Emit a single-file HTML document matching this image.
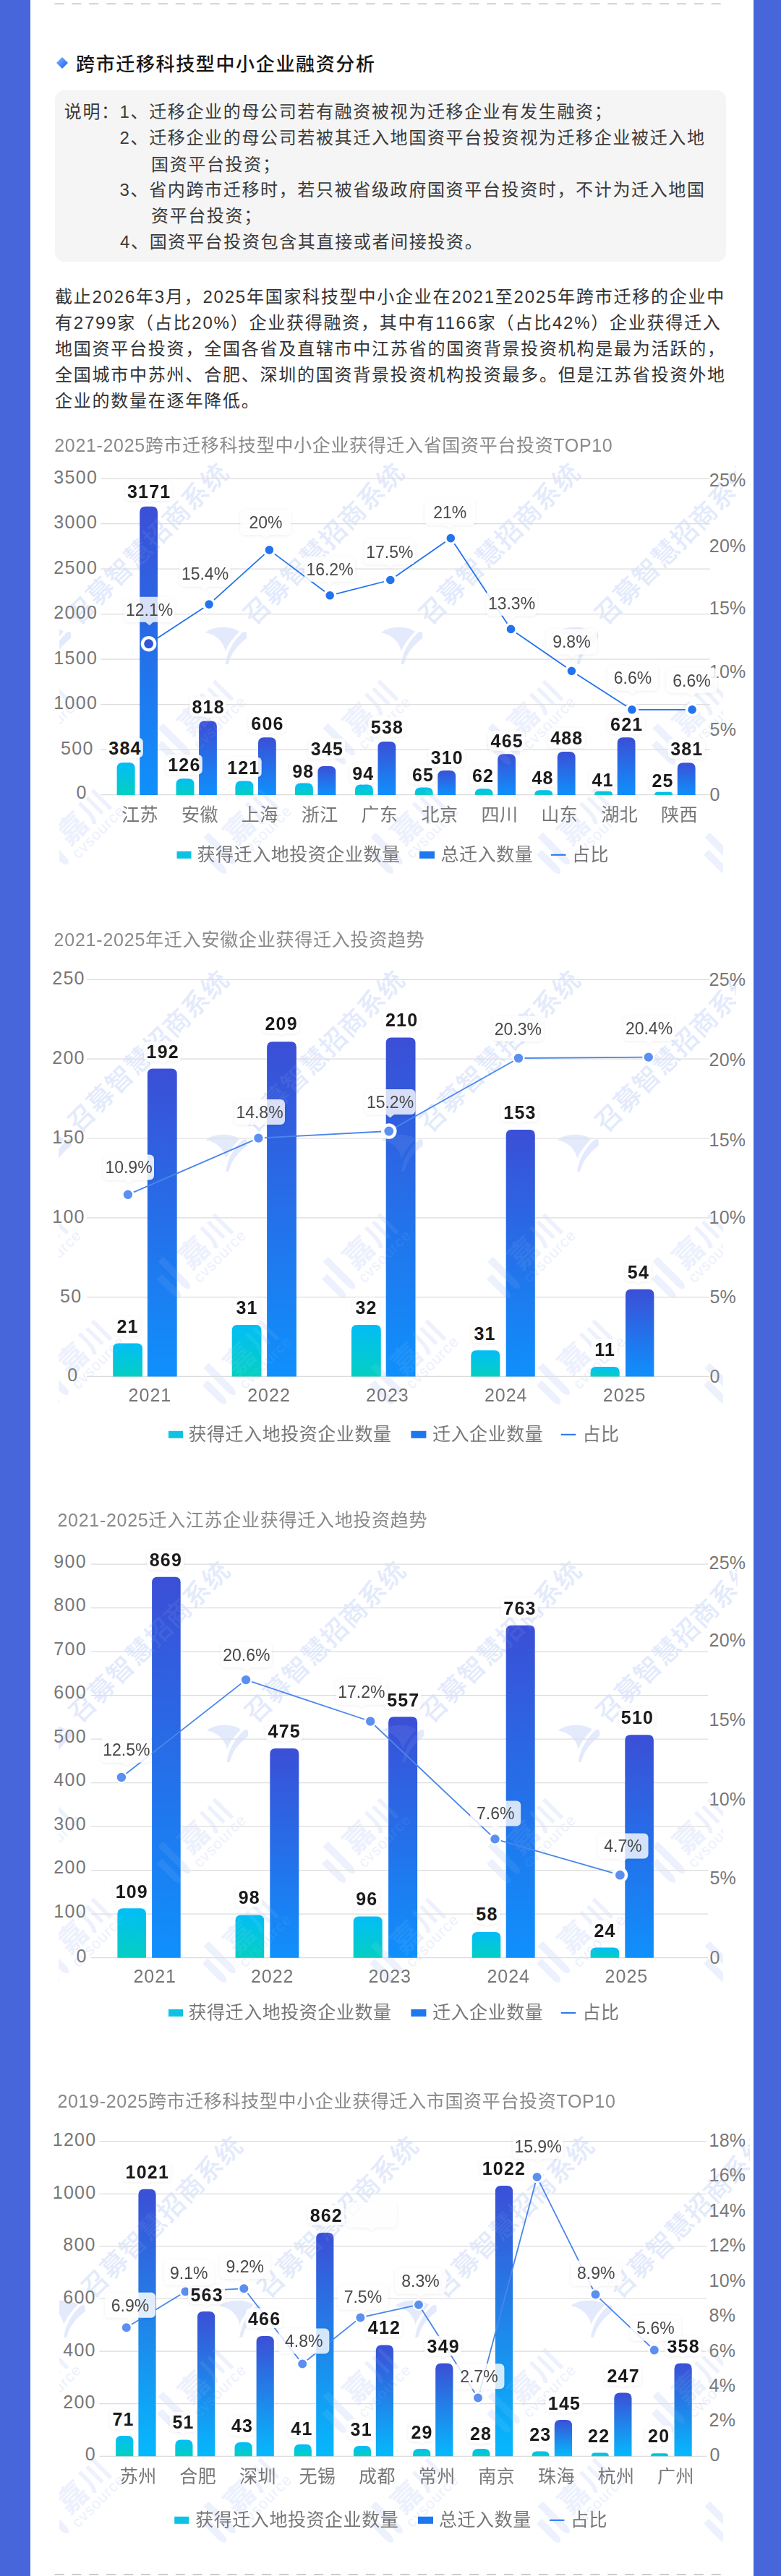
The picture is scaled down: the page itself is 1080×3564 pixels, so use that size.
<!DOCTYPE html><html lang="zh"><head><meta charset="utf-8"><title>跨市迁移科技型中小企业融资分析</title>
<style>
html,body{margin:0;padding:0}
body{width:1080px;height:3564px;position:relative;overflow:hidden;background:#fff;font-family:"Liberation Sans","Noto Sans CJK SC",sans-serif;color:#333}
.lb{position:absolute;left:0;top:0;width:42px;height:3564px;background:#4766da}
.rb{position:absolute;left:1042px;top:0;width:38px;height:3564px;background:#4766da}
.dash{position:absolute;left:75px;width:926px;height:0;border-top:1.4px dashed #b4b4b4}
.t{position:absolute;white-space:nowrap;line-height:1;}
.box{position:absolute;left:76px;top:125px;width:928px;height:237px;border-radius:13px;background:#f5f5f5}
.n{font-size:24px;letter-spacing:1.65px;color:#3a3a3a}
.p{font-size:24px;letter-spacing:1.77px;color:#333;left:76px}
.h{font-size:26px;font-weight:500;letter-spacing:1.64px;color:#161616;left:105px;top:75.5px}
.dm{position:absolute;left:78px;top:79px;width:16px;height:16px}
</style></head><body>
<div class="lb"></div><div class="rb"></div>
<svg class="dm" viewBox="0 0 16 16"><path d="M8,0 L16,8 L8,16 L0,8 Z" fill="url(#gd2)"/><defs><linearGradient id="gd2" x1="0" y1="0" x2="1" y2="1"><stop offset="0.2" stop-color="#6fa8ff"/><stop offset="0.9" stop-color="#2a62f4"/></linearGradient></defs></svg>
<svg style="position:absolute;left:0;top:0" width="1080" height="12"><line x1="75.5" y1="5.3" x2="1001" y2="5.3" stroke="#b0b0b0" stroke-width="1.3" stroke-dasharray="13 10.9"/></svg>
<svg style="position:absolute;left:0;top:3554px" width="1080" height="10"><line x1="75.5" y1="7.8" x2="1001" y2="7.8" stroke="#b0b0b0" stroke-width="1.3" stroke-dasharray="13 10.9"/></svg>
<div class="t h">跨市迁移科技型中小企业融资分析</div>
<div class="box"></div>
<div class="t n" style="left:88.8px;top:142.9px">说明：</div>
<div class="t n" style="left:165.5px;top:142.9px">1、迁移企业的母公司若有融资被视为迁移企业有发生融资；</div>
<div class="t n" style="left:165.5px;top:178.7px">2、迁移企业的母公司若被其迁入地国资平台投资视为迁移企业被迁入地</div>
<div class="t n" style="left:209px;top:215.5px">国资平台投资；</div>
<div class="t n" style="left:165.5px;top:250.9px">3、省内跨市迁移时，若只被省级政府国资平台投资时，不计为迁入地国</div>
<div class="t n" style="left:209px;top:287.2px">资平台投资；</div>
<div class="t n" style="left:166px;top:323.3px">4、国资平台投资包含其直接或者间接投资。</div>
<div class="t p" style="top:398.8px">截止2026年3月，2025年国家科技型中小企业在2021至2025年跨市迁移的企业中</div>
<div class="t p" style="top:434.8px">有2799家（占比20%）企业获得融资，其中有1166家（占比42%）企业获得迁入</div>
<div class="t p" style="top:470.8px">地国资平台投资，全国各省及直辖市中江苏省的国资背景投资机构是最为活跃的，</div>
<div class="t p" style="top:506.8px">全国城市中苏州、合肥、深圳的国资背景投资机构投资最多。但是江苏省投资外地</div>
<div class="t p" style="top:542.8px">企业的数量在逐年降低。</div>
<svg width="1080" height="3564" viewBox="0 0 1080 3564" style="position:absolute;left:0;top:0;font-family:'Liberation Sans','Noto Sans CJK SC',sans-serif">
<defs>
<linearGradient id="gb" x1="0" y1="0" x2="0" y2="1"><stop offset="0" stop-color="#3b4fd6"/><stop offset="1" stop-color="#0f90fc"/></linearGradient>
<linearGradient id="gb4" x1="0" y1="0" x2="0" y2="1"><stop offset="0" stop-color="#3b4fd6"/><stop offset="1" stop-color="#05b9fd"/></linearGradient>
<linearGradient id="gc" x1="0" y1="0" x2="0" y2="1"><stop offset="0" stop-color="#03bdf6"/><stop offset="1" stop-color="#04cfc2"/></linearGradient>
<linearGradient id="gd" x1="0" y1="0" x2="1" y2="1"><stop offset="0" stop-color="#6fa8ff"/><stop offset="1" stop-color="#2563f5"/></linearGradient>
<filter id="sh" x="-20%" y="-30%" width="140%" height="170%"><feDropShadow dx="0" dy="1" stdDeviation="2" flood-color="#000" flood-opacity="0.08"/></filter>
<g id="sail"><path d="M-28.6,-17.7 C-20,-26 5,-29 18.6,-19.2 C8,-8 2,0 -0.6,8.5 C-3,-4 -12,-15 -28.6,-17.7 Z M22.4,-17.7 L27,-19.5 C29,-17 29,-13 28.6,-10 C16,0 8,10 4.8,20.7 L3,26 L-1,26 C2,8 10,-6 22.4,-17.7 Z"/></g>
</defs>
<g><clipPath id="cp640"><rect x="82" y="640" width="918" height="587"/></clipPath>
<clipPath id="cp640t"><rect x="82" y="640" width="935.5" height="587"/></clipPath>
<g clip-path="url(#cp640t)" fill="#e1e9fc" font-weight="bold">
<text transform="translate(108.5,866.4) rotate(-45)" font-size="36" letter-spacing="1.2" font-weight="500">召募智慧招商系统</text>
<text transform="translate(351.5,866.4) rotate(-45)" font-size="36" letter-spacing="1.2" font-weight="500">召募智慧招商系统</text>
<text transform="translate(594.5,866.4) rotate(-45)" font-size="36" letter-spacing="1.2" font-weight="500">召募智慧招商系统</text>
<text transform="translate(837.5,866.4) rotate(-45)" font-size="36" letter-spacing="1.2" font-weight="500">召募智慧招商系统</text>
</g>
<g clip-path="url(#cp640)" fill="#e1e9fc" font-weight="bold">
<use href="#sail" x="-173.5" y="893"/>
<g fill="#ebf0fd" transform="translate(40,995) rotate(-45)"><text font-size="41" x="-20.5" y="15" letter-spacing="2.4">嘉川</text><text font-size="21" x="22" y="36" text-anchor="middle" font-weight="normal" letter-spacing="1.2">cvsource</text><path d="M-44,-26 h10 v46 q0,9 -5,11 q-5,-2 -5,-11 Z M-62,-10 h10 v30 q0,9 -5,11 q-5,-2 -5,-11 Z"/></g>
<g fill="#ebf0fd" transform="translate(-131,1146) rotate(-45)"><text font-size="41" x="-20.5" y="15" letter-spacing="2.4">嘉川</text><text font-size="21" x="22" y="36" text-anchor="middle" font-weight="normal" letter-spacing="1.2">cvsource</text><path d="M-44,-26 h10 v46 q0,9 -5,11 q-5,-2 -5,-11 Z M-62,-10 h10 v30 q0,9 -5,11 q-5,-2 -5,-11 Z"/></g>
<use href="#sail" x="69.5" y="893"/>
<g fill="#ebf0fd" transform="translate(268,995) rotate(-45)"><text font-size="41" x="-20.5" y="15" letter-spacing="2.4">嘉川</text><text font-size="21" x="22" y="36" text-anchor="middle" font-weight="normal" letter-spacing="1.2">cvsource</text><path d="M-44,-26 h10 v46 q0,9 -5,11 q-5,-2 -5,-11 Z M-62,-10 h10 v30 q0,9 -5,11 q-5,-2 -5,-11 Z"/></g>
<g fill="#ebf0fd" transform="translate(100,1146) rotate(-45)"><text font-size="41" x="-20.5" y="15" letter-spacing="2.4">嘉川</text><text font-size="21" x="22" y="36" text-anchor="middle" font-weight="normal" letter-spacing="1.2">cvsource</text><path d="M-44,-26 h10 v46 q0,9 -5,11 q-5,-2 -5,-11 Z M-62,-10 h10 v30 q0,9 -5,11 q-5,-2 -5,-11 Z"/></g>
<use href="#sail" x="312.5" y="893"/>
<g fill="#ebf0fd" transform="translate(496,995) rotate(-45)"><text font-size="41" x="-20.5" y="15" letter-spacing="2.4">嘉川</text><text font-size="21" x="22" y="36" text-anchor="middle" font-weight="normal" letter-spacing="1.2">cvsource</text><path d="M-44,-26 h10 v46 q0,9 -5,11 q-5,-2 -5,-11 Z M-62,-10 h10 v30 q0,9 -5,11 q-5,-2 -5,-11 Z"/></g>
<g fill="#ebf0fd" transform="translate(331,1146) rotate(-45)"><text font-size="41" x="-20.5" y="15" letter-spacing="2.4">嘉川</text><text font-size="21" x="22" y="36" text-anchor="middle" font-weight="normal" letter-spacing="1.2">cvsource</text><path d="M-44,-26 h10 v46 q0,9 -5,11 q-5,-2 -5,-11 Z M-62,-10 h10 v30 q0,9 -5,11 q-5,-2 -5,-11 Z"/></g>
<use href="#sail" x="555.5" y="893"/>
<g fill="#ebf0fd" transform="translate(724,995) rotate(-45)"><text font-size="41" x="-20.5" y="15" letter-spacing="2.4">嘉川</text><text font-size="21" x="22" y="36" text-anchor="middle" font-weight="normal" letter-spacing="1.2">cvsource</text><path d="M-44,-26 h10 v46 q0,9 -5,11 q-5,-2 -5,-11 Z M-62,-10 h10 v30 q0,9 -5,11 q-5,-2 -5,-11 Z"/></g>
<g fill="#ebf0fd" transform="translate(562,1146) rotate(-45)"><text font-size="41" x="-20.5" y="15" letter-spacing="2.4">嘉川</text><text font-size="21" x="22" y="36" text-anchor="middle" font-weight="normal" letter-spacing="1.2">cvsource</text><path d="M-44,-26 h10 v46 q0,9 -5,11 q-5,-2 -5,-11 Z M-62,-10 h10 v30 q0,9 -5,11 q-5,-2 -5,-11 Z"/></g>
<use href="#sail" x="798.5" y="893"/>
<g fill="#ebf0fd" transform="translate(952,995) rotate(-45)"><text font-size="41" x="-20.5" y="15" letter-spacing="2.4">嘉川</text><text font-size="21" x="22" y="36" text-anchor="middle" font-weight="normal" letter-spacing="1.2">cvsource</text><path d="M-44,-26 h10 v46 q0,9 -5,11 q-5,-2 -5,-11 Z M-62,-10 h10 v30 q0,9 -5,11 q-5,-2 -5,-11 Z"/></g>
<g fill="#ebf0fd" transform="translate(793,1146) rotate(-45)"><text font-size="41" x="-20.5" y="15" letter-spacing="2.4">嘉川</text><text font-size="21" x="22" y="36" text-anchor="middle" font-weight="normal" letter-spacing="1.2">cvsource</text><path d="M-44,-26 h10 v46 q0,9 -5,11 q-5,-2 -5,-11 Z M-62,-10 h10 v30 q0,9 -5,11 q-5,-2 -5,-11 Z"/></g>
<use href="#sail" x="1041.5" y="893"/>
<g fill="#ebf0fd" transform="translate(1180,995) rotate(-45)"><text font-size="41" x="-20.5" y="15" letter-spacing="2.4">嘉川</text><text font-size="21" x="22" y="36" text-anchor="middle" font-weight="normal" letter-spacing="1.2">cvsource</text><path d="M-44,-26 h10 v46 q0,9 -5,11 q-5,-2 -5,-11 Z M-62,-10 h10 v30 q0,9 -5,11 q-5,-2 -5,-11 Z"/></g>
<g fill="#ebf0fd" transform="translate(1024,1146) rotate(-45)"><text font-size="41" x="-20.5" y="15" letter-spacing="2.4">嘉川</text><text font-size="21" x="22" y="36" text-anchor="middle" font-weight="normal" letter-spacing="1.2">cvsource</text><path d="M-44,-26 h10 v46 q0,9 -5,11 q-5,-2 -5,-11 Z M-62,-10 h10 v30 q0,9 -5,11 q-5,-2 -5,-11 Z"/></g>
</g>
<line x1="139.2" y1="662.2" x2="981.8" y2="662.2" stroke="#dcdcdc" stroke-width="1.2"/>
<line x1="139.2" y1="724.7" x2="981.8" y2="724.7" stroke="#dcdcdc" stroke-width="1.2"/>
<line x1="139.2" y1="787.2" x2="981.8" y2="787.2" stroke="#dcdcdc" stroke-width="1.2"/>
<line x1="139.2" y1="849.7" x2="981.8" y2="849.7" stroke="#dcdcdc" stroke-width="1.2"/>
<line x1="139.2" y1="912.2" x2="981.8" y2="912.2" stroke="#dcdcdc" stroke-width="1.2"/>
<line x1="139.2" y1="974.7" x2="981.8" y2="974.7" stroke="#dcdcdc" stroke-width="1.2"/>
<line x1="139.2" y1="1037.2" x2="981.8" y2="1037.2" stroke="#dcdcdc" stroke-width="1.2"/>
<line x1="139.2" y1="1099.7" x2="981.8" y2="1099.7" stroke="#dcdcdc" stroke-width="1.2"/>
<text x="104.7" y="668.6" font-size="25" fill="#777777" text-anchor="middle" letter-spacing="1.3">3500</text>
<text x="104.7" y="731.1" font-size="25" fill="#777777" text-anchor="middle" letter-spacing="1.3">3000</text>
<text x="104.7" y="793.6" font-size="25" fill="#777777" text-anchor="middle" letter-spacing="1.3">2500</text>
<text x="104.7" y="856.1" font-size="25" fill="#777777" text-anchor="middle" letter-spacing="1.3">2000</text>
<text x="104.7" y="918.6" font-size="25" fill="#777777" text-anchor="middle" letter-spacing="1.3">1500</text>
<text x="104.7" y="981.1" font-size="25" fill="#777777" text-anchor="middle" letter-spacing="1.3">1000</text>
<text x="106.9" y="1043.6" font-size="25" fill="#777777" text-anchor="middle" letter-spacing="1.3">500</text>
<text x="113" y="1105.2" font-size="25" fill="#777777" text-anchor="middle" letter-spacing="1.3">0</text>
<text x="980.8" y="672.5" font-size="25" fill="#777777" text-anchor="start" letter-spacing="0.2">25%</text>
<text x="980.8" y="763.7" font-size="25" fill="#777777" text-anchor="start" letter-spacing="0.2">20%</text>
<text x="980.8" y="850.4" font-size="25" fill="#777777" text-anchor="start" letter-spacing="0.2">15%</text>
<text x="980.8" y="938.2" font-size="25" fill="#777777" text-anchor="start" letter-spacing="0.2">10%</text>
<text x="981.6" y="1017.8" font-size="25" fill="#777777" text-anchor="start" letter-spacing="0.2">5%</text>
<text x="981.6" y="1107.5" font-size="25" fill="#777777" text-anchor="start" letter-spacing="0.2">0</text>
<path d="M161.6,1099.9 L161.6,1062.9 Q161.6,1054.9 169.6,1054.9 L178.6,1054.9 Q186.6,1054.9 186.6,1062.9 L186.6,1099.9 Z" fill="url(#gc)"/>
<path d="M193.2,1099.9 L193.2,708.7 Q193.2,700.7 201.2,700.7 L210,700.7 Q218,700.7 218,708.7 L218,1099.9 Z" fill="url(#gb)"/>
<path d="M243.5,1099.9 L243.5,1085.2 Q243.5,1077.2 251.5,1077.2 L260.5,1077.2 Q268.5,1077.2 268.5,1085.2 L268.5,1099.9 Z" fill="url(#gc)"/>
<path d="M275.1,1099.9 L275.1,1005.6 Q275.1,997.6 283.1,997.6 L291.9,997.6 Q299.9,997.6 299.9,1005.6 L299.9,1099.9 Z" fill="url(#gb)"/>
<path d="M325.4,1099.9 L325.4,1088.5 Q325.4,1080.5 333.4,1080.5 L342.4,1080.5 Q350.4,1080.5 350.4,1088.5 L350.4,1099.9 Z" fill="url(#gc)"/>
<path d="M357,1099.9 L357,1028.3 Q357,1020.3 365,1020.3 L373.8,1020.3 Q381.8,1020.3 381.8,1028.3 L381.8,1099.9 Z" fill="url(#gb)"/>
<path d="M407.9,1099.9 L407.9,1091.5 Q407.9,1083.5 415.9,1083.5 L424.9,1083.5 Q432.9,1083.5 432.9,1091.5 L432.9,1099.9 Z" fill="url(#gc)"/>
<path d="M439.5,1099.9 L439.5,1067.9 Q439.5,1059.9 447.5,1059.9 L456.3,1059.9 Q464.3,1059.9 464.3,1067.9 L464.3,1099.9 Z" fill="url(#gb)"/>
<path d="M490.9,1099.9 L490.9,1093.5 Q490.9,1085.5 498.9,1085.5 L507.9,1085.5 Q515.9,1085.5 515.9,1093.5 L515.9,1099.9 Z" fill="url(#gc)"/>
<path d="M522.5,1099.9 L522.5,1033.9 Q522.5,1025.9 530.5,1025.9 L539.3,1025.9 Q547.3,1025.9 547.3,1033.9 L547.3,1099.9 Z" fill="url(#gb)"/>
<path d="M573.7,1099.9 L573.7,1097.5 Q573.7,1089.5 581.7,1089.5 L590.7,1089.5 Q598.7,1089.5 598.7,1097.5 L598.7,1099.9 Z" fill="url(#gc)"/>
<path d="M605.3,1099.9 L605.3,1073.9 Q605.3,1065.9 613.3,1065.9 L622.1,1065.9 Q630.1,1065.9 630.1,1073.9 L630.1,1099.9 Z" fill="url(#gb)"/>
<path d="M656.6,1099.9 L656.6,1099.2 Q656.6,1091.2 664.6,1091.2 L673.6,1091.2 Q681.6,1091.2 681.6,1099.2 L681.6,1099.9 Z" fill="url(#gc)"/>
<path d="M688.2,1099.9 L688.2,1051.2 Q688.2,1043.2 696.2,1043.2 L705,1043.2 Q713,1043.2 713,1051.2 L713,1099.9 Z" fill="url(#gb)"/>
<path d="M739.2,1099.9 L739.2,1099.9 Q739.2,1093.2 745.9,1093.2 L757.5,1093.2 Q764.2,1093.2 764.2,1099.9 L764.2,1099.9 Z" fill="url(#gc)"/>
<path d="M770.8,1099.9 L770.8,1047.9 Q770.8,1039.9 778.8,1039.9 L787.6,1039.9 Q795.6,1039.9 795.6,1047.9 L795.6,1099.9 Z" fill="url(#gb)"/>
<path d="M822.1,1099.9 L822.1,1099.9 Q822.1,1094.8 827.2,1094.8 L842,1094.8 Q847.1,1094.8 847.1,1099.9 L847.1,1099.9 Z" fill="url(#gc)"/>
<path d="M853.7,1099.9 L853.7,1028.3 Q853.7,1020.3 861.7,1020.3 L870.5,1020.3 Q878.5,1020.3 878.5,1028.3 L878.5,1099.9 Z" fill="url(#gb)"/>
<path d="M905.2,1099.9 L905.2,1099.9 Q905.2,1095.8 909.3,1095.8 L926.1,1095.8 Q930.2,1095.8 930.2,1099.9 L930.2,1099.9 Z" fill="url(#gc)"/>
<path d="M936.8,1099.9 L936.8,1063.2 Q936.8,1055.2 944.8,1055.2 L953.6,1055.2 Q961.6,1055.2 961.6,1063.2 L961.6,1099.9 Z" fill="url(#gb)"/>
<g opacity="0.07">
<clipPath id="co640"><rect x="82" y="640" width="918" height="587"/></clipPath>
<clipPath id="co640t"><rect x="82" y="640" width="935.5" height="587"/></clipPath>
<g clip-path="url(#co640t)" fill="#fff" font-weight="bold">
<text transform="translate(108.5,866.4) rotate(-45)" font-size="36" letter-spacing="1.2" font-weight="500">召募智慧招商系统</text>
<text transform="translate(351.5,866.4) rotate(-45)" font-size="36" letter-spacing="1.2" font-weight="500">召募智慧招商系统</text>
<text transform="translate(594.5,866.4) rotate(-45)" font-size="36" letter-spacing="1.2" font-weight="500">召募智慧招商系统</text>
<text transform="translate(837.5,866.4) rotate(-45)" font-size="36" letter-spacing="1.2" font-weight="500">召募智慧招商系统</text>
</g>
<g clip-path="url(#co640)" fill="#fff" font-weight="bold">
<use href="#sail" x="-173.5" y="893"/>
<g fill="#fff" transform="translate(40,995) rotate(-45)"><text font-size="41" x="-20.5" y="15" letter-spacing="2.4">嘉川</text><text font-size="21" x="22" y="36" text-anchor="middle" font-weight="normal" letter-spacing="1.2">cvsource</text><path d="M-44,-26 h10 v46 q0,9 -5,11 q-5,-2 -5,-11 Z M-62,-10 h10 v30 q0,9 -5,11 q-5,-2 -5,-11 Z"/></g>
<g fill="#fff" transform="translate(-131,1146) rotate(-45)"><text font-size="41" x="-20.5" y="15" letter-spacing="2.4">嘉川</text><text font-size="21" x="22" y="36" text-anchor="middle" font-weight="normal" letter-spacing="1.2">cvsource</text><path d="M-44,-26 h10 v46 q0,9 -5,11 q-5,-2 -5,-11 Z M-62,-10 h10 v30 q0,9 -5,11 q-5,-2 -5,-11 Z"/></g>
<use href="#sail" x="69.5" y="893"/>
<g fill="#fff" transform="translate(268,995) rotate(-45)"><text font-size="41" x="-20.5" y="15" letter-spacing="2.4">嘉川</text><text font-size="21" x="22" y="36" text-anchor="middle" font-weight="normal" letter-spacing="1.2">cvsource</text><path d="M-44,-26 h10 v46 q0,9 -5,11 q-5,-2 -5,-11 Z M-62,-10 h10 v30 q0,9 -5,11 q-5,-2 -5,-11 Z"/></g>
<g fill="#fff" transform="translate(100,1146) rotate(-45)"><text font-size="41" x="-20.5" y="15" letter-spacing="2.4">嘉川</text><text font-size="21" x="22" y="36" text-anchor="middle" font-weight="normal" letter-spacing="1.2">cvsource</text><path d="M-44,-26 h10 v46 q0,9 -5,11 q-5,-2 -5,-11 Z M-62,-10 h10 v30 q0,9 -5,11 q-5,-2 -5,-11 Z"/></g>
<use href="#sail" x="312.5" y="893"/>
<g fill="#fff" transform="translate(496,995) rotate(-45)"><text font-size="41" x="-20.5" y="15" letter-spacing="2.4">嘉川</text><text font-size="21" x="22" y="36" text-anchor="middle" font-weight="normal" letter-spacing="1.2">cvsource</text><path d="M-44,-26 h10 v46 q0,9 -5,11 q-5,-2 -5,-11 Z M-62,-10 h10 v30 q0,9 -5,11 q-5,-2 -5,-11 Z"/></g>
<g fill="#fff" transform="translate(331,1146) rotate(-45)"><text font-size="41" x="-20.5" y="15" letter-spacing="2.4">嘉川</text><text font-size="21" x="22" y="36" text-anchor="middle" font-weight="normal" letter-spacing="1.2">cvsource</text><path d="M-44,-26 h10 v46 q0,9 -5,11 q-5,-2 -5,-11 Z M-62,-10 h10 v30 q0,9 -5,11 q-5,-2 -5,-11 Z"/></g>
<use href="#sail" x="555.5" y="893"/>
<g fill="#fff" transform="translate(724,995) rotate(-45)"><text font-size="41" x="-20.5" y="15" letter-spacing="2.4">嘉川</text><text font-size="21" x="22" y="36" text-anchor="middle" font-weight="normal" letter-spacing="1.2">cvsource</text><path d="M-44,-26 h10 v46 q0,9 -5,11 q-5,-2 -5,-11 Z M-62,-10 h10 v30 q0,9 -5,11 q-5,-2 -5,-11 Z"/></g>
<g fill="#fff" transform="translate(562,1146) rotate(-45)"><text font-size="41" x="-20.5" y="15" letter-spacing="2.4">嘉川</text><text font-size="21" x="22" y="36" text-anchor="middle" font-weight="normal" letter-spacing="1.2">cvsource</text><path d="M-44,-26 h10 v46 q0,9 -5,11 q-5,-2 -5,-11 Z M-62,-10 h10 v30 q0,9 -5,11 q-5,-2 -5,-11 Z"/></g>
<use href="#sail" x="798.5" y="893"/>
<g fill="#fff" transform="translate(952,995) rotate(-45)"><text font-size="41" x="-20.5" y="15" letter-spacing="2.4">嘉川</text><text font-size="21" x="22" y="36" text-anchor="middle" font-weight="normal" letter-spacing="1.2">cvsource</text><path d="M-44,-26 h10 v46 q0,9 -5,11 q-5,-2 -5,-11 Z M-62,-10 h10 v30 q0,9 -5,11 q-5,-2 -5,-11 Z"/></g>
<g fill="#fff" transform="translate(793,1146) rotate(-45)"><text font-size="41" x="-20.5" y="15" letter-spacing="2.4">嘉川</text><text font-size="21" x="22" y="36" text-anchor="middle" font-weight="normal" letter-spacing="1.2">cvsource</text><path d="M-44,-26 h10 v46 q0,9 -5,11 q-5,-2 -5,-11 Z M-62,-10 h10 v30 q0,9 -5,11 q-5,-2 -5,-11 Z"/></g>
<use href="#sail" x="1041.5" y="893"/>
<g fill="#fff" transform="translate(1180,995) rotate(-45)"><text font-size="41" x="-20.5" y="15" letter-spacing="2.4">嘉川</text><text font-size="21" x="22" y="36" text-anchor="middle" font-weight="normal" letter-spacing="1.2">cvsource</text><path d="M-44,-26 h10 v46 q0,9 -5,11 q-5,-2 -5,-11 Z M-62,-10 h10 v30 q0,9 -5,11 q-5,-2 -5,-11 Z"/></g>
<g fill="#fff" transform="translate(1024,1146) rotate(-45)"><text font-size="41" x="-20.5" y="15" letter-spacing="2.4">嘉川</text><text font-size="21" x="22" y="36" text-anchor="middle" font-weight="normal" letter-spacing="1.2">cvsource</text><path d="M-44,-26 h10 v46 q0,9 -5,11 q-5,-2 -5,-11 Z M-62,-10 h10 v30 q0,9 -5,11 q-5,-2 -5,-11 Z"/></g>
</g>
</g>
<polyline points="205.6,890.7 289.1,836.1 372.4,760.9 456.2,823.8 539.8,802.5 623.3,744.6 706.5,870.4 790.4,928.3 873.9,981.9 957.1,981.9" fill="none" stroke="#2273ee" stroke-width="1.8" stroke-linejoin="round"/>
<circle cx="205.6" cy="890.7" r="8.6" fill="#2f55d8" stroke="#fff" stroke-width="4.4"/>
<circle cx="289.1" cy="836.1" r="7.6" fill="#2273ee" stroke="#fff" stroke-width="3.6"/>
<circle cx="372.4" cy="760.9" r="7.6" fill="#2273ee" stroke="#fff" stroke-width="3.6"/>
<circle cx="456.2" cy="823.8" r="7.6" fill="#2273ee" stroke="#fff" stroke-width="3.6"/>
<circle cx="539.8" cy="802.5" r="7.6" fill="#2273ee" stroke="#fff" stroke-width="3.6"/>
<circle cx="623.3" cy="744.6" r="7.6" fill="#2273ee" stroke="#fff" stroke-width="3.6"/>
<circle cx="706.5" cy="870.4" r="7.6" fill="#2273ee" stroke="#fff" stroke-width="3.6"/>
<circle cx="790.4" cy="928.3" r="7.6" fill="#2273ee" stroke="#fff" stroke-width="3.6"/>
<circle cx="873.9" cy="981.9" r="7.6" fill="#2273ee" stroke="#fff" stroke-width="3.6"/>
<circle cx="957.1" cy="981.9" r="7.6" fill="#2273ee" stroke="#fff" stroke-width="3.6"/>
<g filter="url(#sh)"><rect x="146.9" y="1020.7" width="50.9" height="27.6" rx="6" fill="#fff" fill-opacity="0.86"/><path d="M166.9,1048 L177.9,1048 L172.4,1050.7 Z" fill="#fff" fill-opacity="0.86"/></g>
<text x="173" y="1044" font-size="25" fill="#1a1a1a" text-anchor="middle" font-weight="bold" letter-spacing="1.2">384</text>
<g filter="url(#sh)"><rect x="173" y="665.4" width="65.2" height="27.6" rx="6" fill="#fff" fill-opacity="0.86"/><path d="M200.1,692.7 L211.1,692.7 L205.6,695.4 Z" fill="#fff" fill-opacity="0.86"/></g>
<text x="206.2" y="688.7" font-size="25" fill="#1a1a1a" text-anchor="middle" font-weight="bold" letter-spacing="1.2">3171</text>
<g filter="url(#sh)"><rect x="228.9" y="1043.9" width="50.9" height="27.6" rx="6" fill="#fff" fill-opacity="0.86"/><path d="M248.8,1071.2 L259.8,1071.2 L254.3,1073.9 Z" fill="#fff" fill-opacity="0.86"/></g>
<text x="254.9" y="1067.2" font-size="25" fill="#1a1a1a" text-anchor="middle" font-weight="bold" letter-spacing="1.2">126</text>
<g filter="url(#sh)"><rect x="262.1" y="963.7" width="50.9" height="27.6" rx="6" fill="#fff" fill-opacity="0.86"/><path d="M282,991 L293,991 L287.5,993.7 Z" fill="#fff" fill-opacity="0.86"/></g>
<text x="288.1" y="987" font-size="25" fill="#1a1a1a" text-anchor="middle" font-weight="bold" letter-spacing="1.2">818</text>
<g filter="url(#sh)"><rect x="310.8" y="1047.6" width="50.9" height="27.6" rx="6" fill="#fff" fill-opacity="0.86"/><path d="M330.7,1074.9 L341.7,1074.9 L336.2,1077.6 Z" fill="#fff" fill-opacity="0.86"/></g>
<text x="336.8" y="1070.9" font-size="25" fill="#1a1a1a" text-anchor="middle" font-weight="bold" letter-spacing="1.2">121</text>
<g filter="url(#sh)"><rect x="343.9" y="987" width="50.9" height="27.6" rx="6" fill="#fff" fill-opacity="0.86"/><path d="M363.9,1014.3 L374.9,1014.3 L369.4,1017 Z" fill="#fff" fill-opacity="0.86"/></g>
<text x="370" y="1010.3" font-size="25" fill="#1a1a1a" text-anchor="middle" font-weight="bold" letter-spacing="1.2">606</text>
<g filter="url(#sh)"><rect x="400.4" y="1052.9" width="36.6" height="27.6" rx="6" fill="#fff" fill-opacity="0.86"/><path d="M413.2,1080.2 L424.2,1080.2 L418.7,1082.9 Z" fill="#fff" fill-opacity="0.86"/></g>
<text x="419.3" y="1076.2" font-size="25" fill="#1a1a1a" text-anchor="middle" font-weight="bold" letter-spacing="1.2">98</text>
<g filter="url(#sh)"><rect x="426.4" y="1021.8" width="50.9" height="27.6" rx="6" fill="#fff" fill-opacity="0.86"/><path d="M446.4,1049.1 L457.4,1049.1 L451.9,1051.8 Z" fill="#fff" fill-opacity="0.86"/></g>
<text x="452.5" y="1045.1" font-size="25" fill="#1a1a1a" text-anchor="middle" font-weight="bold" letter-spacing="1.2">345</text>
<g filter="url(#sh)"><rect x="483.4" y="1055.7" width="36.6" height="27.6" rx="6" fill="#fff" fill-opacity="0.86"/><path d="M496.2,1083 L507.2,1083 L501.7,1085.7 Z" fill="#fff" fill-opacity="0.86"/></g>
<text x="502.3" y="1079" font-size="25" fill="#1a1a1a" text-anchor="middle" font-weight="bold" letter-spacing="1.2">94</text>
<g filter="url(#sh)"><rect x="509.4" y="991.8" width="50.9" height="27.6" rx="6" fill="#fff" fill-opacity="0.86"/><path d="M529.4,1019.1 L540.4,1019.1 L534.9,1021.8 Z" fill="#fff" fill-opacity="0.86"/></g>
<text x="535.5" y="1015.1" font-size="25" fill="#1a1a1a" text-anchor="middle" font-weight="bold" letter-spacing="1.2">538</text>
<g filter="url(#sh)"><rect x="566.2" y="1057.6" width="36.6" height="27.6" rx="6" fill="#fff" fill-opacity="0.86"/><path d="M579,1084.9 L590,1084.9 L584.5,1087.6 Z" fill="#fff" fill-opacity="0.86"/></g>
<text x="585.1" y="1080.9" font-size="25" fill="#1a1a1a" text-anchor="middle" font-weight="bold" letter-spacing="1.2">65</text>
<g filter="url(#sh)"><rect x="592.2" y="1033.4" width="50.9" height="27.6" rx="6" fill="#fff" fill-opacity="0.86"/><path d="M612.2,1060.7 L623.2,1060.7 L617.7,1063.4 Z" fill="#fff" fill-opacity="0.86"/></g>
<text x="618.3" y="1056.7" font-size="25" fill="#1a1a1a" text-anchor="middle" font-weight="bold" letter-spacing="1.2">310</text>
<g filter="url(#sh)"><rect x="649.1" y="1058.9" width="36.6" height="27.6" rx="6" fill="#fff" fill-opacity="0.86"/><path d="M661.9,1086.2 L672.9,1086.2 L667.4,1088.9 Z" fill="#fff" fill-opacity="0.86"/></g>
<text x="668" y="1082.2" font-size="25" fill="#1a1a1a" text-anchor="middle" font-weight="bold" letter-spacing="1.2">62</text>
<g filter="url(#sh)"><rect x="675.1" y="1010.9" width="50.9" height="27.6" rx="6" fill="#fff" fill-opacity="0.86"/><path d="M695.1,1038.2 L706.1,1038.2 L700.6,1040.9 Z" fill="#fff" fill-opacity="0.86"/></g>
<text x="701.2" y="1034.2" font-size="25" fill="#1a1a1a" text-anchor="middle" font-weight="bold" letter-spacing="1.2">465</text>
<g filter="url(#sh)"><rect x="731.7" y="1061.5" width="36.6" height="27.6" rx="6" fill="#fff" fill-opacity="0.86"/><path d="M744.5,1088.8 L755.5,1088.8 L750,1091.5 Z" fill="#fff" fill-opacity="0.86"/></g>
<text x="750.6" y="1084.8" font-size="25" fill="#1a1a1a" text-anchor="middle" font-weight="bold" letter-spacing="1.2">48</text>
<g filter="url(#sh)"><rect x="757.8" y="1007" width="50.9" height="27.6" rx="6" fill="#fff" fill-opacity="0.86"/><path d="M777.7,1034.3 L788.7,1034.3 L783.2,1037 Z" fill="#fff" fill-opacity="0.86"/></g>
<text x="783.8" y="1030.3" font-size="25" fill="#1a1a1a" text-anchor="middle" font-weight="bold" letter-spacing="1.2">488</text>
<g filter="url(#sh)"><rect x="814.6" y="1064.4" width="36.6" height="27.6" rx="6" fill="#fff" fill-opacity="0.86"/><path d="M827.4,1091.7 L838.4,1091.7 L832.9,1094.4 Z" fill="#fff" fill-opacity="0.86"/></g>
<text x="833.5" y="1087.7" font-size="25" fill="#1a1a1a" text-anchor="middle" font-weight="bold" letter-spacing="1.2">41</text>
<g filter="url(#sh)"><rect x="840.6" y="987.8" width="50.9" height="27.6" rx="6" fill="#fff" fill-opacity="0.86"/><path d="M860.6,1015.1 L871.6,1015.1 L866.1,1017.8 Z" fill="#fff" fill-opacity="0.86"/></g>
<text x="866.7" y="1011.1" font-size="25" fill="#1a1a1a" text-anchor="middle" font-weight="bold" letter-spacing="1.2">621</text>
<g filter="url(#sh)"><rect x="897.7" y="1065.9" width="36.6" height="27.6" rx="6" fill="#fff" fill-opacity="0.86"/><path d="M910.5,1093.2 L921.5,1093.2 L916,1095.9 Z" fill="#fff" fill-opacity="0.86"/></g>
<text x="916.6" y="1089.2" font-size="25" fill="#1a1a1a" text-anchor="middle" font-weight="bold" letter-spacing="1.2">25</text>
<g filter="url(#sh)"><rect x="923.8" y="1021.8" width="50.9" height="27.6" rx="6" fill="#fff" fill-opacity="0.86"/><path d="M943.7,1049.1 L954.7,1049.1 L949.2,1051.8 Z" fill="#fff" fill-opacity="0.86"/></g>
<text x="949.8" y="1045.1" font-size="25" fill="#1a1a1a" text-anchor="middle" font-weight="bold" letter-spacing="1.2">381</text>
<g filter="url(#sh)"><rect x="171.6" y="825.7" width="70" height="35" rx="6" fill="#fff" fill-opacity="0.8"/><path d="M201.1,860.4 L212.1,860.4 L206.6,865.2 Z" fill="#fff" fill-opacity="0.8"/></g>
<text x="206.6" y="851.5" font-size="23" fill="#484848" text-anchor="middle">12.1%</text>
<g filter="url(#sh)"><rect x="248.5" y="776.5" width="70" height="35" rx="6" fill="#fff" fill-opacity="0.86"/><path d="M278,811.2 L289,811.2 L283.5,816 Z" fill="#fff" fill-opacity="0.86"/></g>
<text x="283.5" y="802.3" font-size="23" fill="#484848" text-anchor="middle">15.4%</text>
<g filter="url(#sh)"><rect x="332.5" y="705" width="70" height="35" rx="6" fill="#fff" fill-opacity="0.86"/><path d="M362,739.7 L373,739.7 L367.5,744.5 Z" fill="#fff" fill-opacity="0.86"/></g>
<text x="367.5" y="730.8" font-size="23" fill="#484848" text-anchor="middle">20%</text>
<g filter="url(#sh)"><rect x="421" y="769.8" width="70" height="35" rx="6" fill="#fff" fill-opacity="0.86"/><path d="M450.5,804.5 L461.5,804.5 L456,809.3 Z" fill="#fff" fill-opacity="0.86"/></g>
<text x="456" y="795.6" font-size="23" fill="#484848" text-anchor="middle">16.2%</text>
<g filter="url(#sh)"><rect x="503.8" y="745.9" width="70" height="35" rx="6" fill="#fff" fill-opacity="0.86"/><path d="M533.3,780.6 L544.3,780.6 L538.8,785.4 Z" fill="#fff" fill-opacity="0.86"/></g>
<text x="538.8" y="771.7" font-size="23" fill="#484848" text-anchor="middle">17.5%</text>
<g filter="url(#sh)"><rect x="587.3" y="691.6" width="70" height="35" rx="6" fill="#fff" fill-opacity="0.86"/><path d="M616.8,726.3 L627.8,726.3 L622.3,731.1 Z" fill="#fff" fill-opacity="0.86"/></g>
<text x="622.3" y="717.4" font-size="23" fill="#484848" text-anchor="middle">21%</text>
<g filter="url(#sh)"><rect x="672.5" y="816.8" width="70" height="35" rx="6" fill="#fff" fill-opacity="0.86"/><path d="M702,851.5 L713,851.5 L707.5,856.3 Z" fill="#fff" fill-opacity="0.86"/></g>
<text x="707.5" y="842.6" font-size="23" fill="#484848" text-anchor="middle">13.3%</text>
<g filter="url(#sh)"><rect x="755.4" y="870.2" width="70" height="35" rx="6" fill="#fff" fill-opacity="0.86"/><path d="M784.9,904.9 L795.9,904.9 L790.4,909.7 Z" fill="#fff" fill-opacity="0.86"/></g>
<text x="790.4" y="896" font-size="23" fill="#484848" text-anchor="middle">9.8%</text>
<g filter="url(#sh)"><rect x="840" y="920.5" width="70" height="35" rx="6" fill="#fff" fill-opacity="0.86"/><path d="M869.5,955.2 L880.5,955.2 L875,960 Z" fill="#fff" fill-opacity="0.86"/></g>
<text x="875" y="946.3" font-size="23" fill="#484848" text-anchor="middle">6.6%</text>
<g filter="url(#sh)"><rect x="921.5" y="923.7" width="70" height="35" rx="6" fill="#fff" fill-opacity="0.86"/><path d="M951,958.4 L962,958.4 L956.5,963.2 Z" fill="#fff" fill-opacity="0.86"/></g>
<text x="956.5" y="949.5" font-size="23" fill="#484848" text-anchor="middle">6.6%</text>
<text x="193.5" y="1136.3" font-size="25" fill="#777777" text-anchor="middle" letter-spacing="0.5">江苏</text>
<text x="276.4" y="1136.3" font-size="25" fill="#777777" text-anchor="middle" letter-spacing="0.5">安徽</text>
<text x="359.3" y="1136.3" font-size="25" fill="#777777" text-anchor="middle" letter-spacing="0.5">上海</text>
<text x="442.2" y="1136.3" font-size="25" fill="#777777" text-anchor="middle" letter-spacing="0.5">浙江</text>
<text x="525.1" y="1136.3" font-size="25" fill="#777777" text-anchor="middle" letter-spacing="0.5">广东</text>
<text x="608" y="1136.3" font-size="25" fill="#777777" text-anchor="middle" letter-spacing="0.5">北京</text>
<text x="690.9" y="1136.3" font-size="25" fill="#777777" text-anchor="middle" letter-spacing="0.5">四川</text>
<text x="773.8" y="1136.3" font-size="25" fill="#777777" text-anchor="middle" letter-spacing="0.5">山东</text>
<text x="856.7" y="1136.3" font-size="25" fill="#777777" text-anchor="middle" letter-spacing="0.5">湖北</text>
<text x="939.6" y="1136.3" font-size="25" fill="#777777" text-anchor="middle" letter-spacing="0.5">陕西</text>
<rect x="244.5" y="1177.8" width="20" height="10" fill="#0cc3e3"/>
<text x="272.5" y="1191.3" font-size="25" fill="#777777" text-anchor="start" letter-spacing="0.55">获得迁入地投资企业数量</text>
<rect x="580" y="1177.8" width="21" height="10" fill="#1c78ee"/>
<text x="609.5" y="1191.3" font-size="25" fill="#777777" text-anchor="start" letter-spacing="0.55">总迁入数量</text>
<line x1="762" y1="1182.8" x2="782.5" y2="1182.8" stroke="#2273ee" stroke-width="2"/>
<text x="791" y="1191.3" font-size="25" fill="#777777" text-anchor="start" letter-spacing="0.55">占比</text>
<text x="75.3" y="624.5" font-size="25" fill="#8a8a8a" text-anchor="start" letter-spacing="0.66">2021-2025跨市迁移科技型中小企业获得迁入省国资平台投资TOP10</text></g>
<g><clipPath id="cp1340"><rect x="81" y="1340" width="919" height="611"/></clipPath>
<clipPath id="cp1340t"><rect x="81" y="1340" width="937" height="611"/></clipPath>
<g clip-path="url(#cp1340t)" fill="#e1e9fc" font-weight="bold">
<text transform="translate(109,1568.4) rotate(-45)" font-size="36" letter-spacing="1.2" font-weight="500">召募智慧招商系统</text>
<text transform="translate(352,1568.4) rotate(-45)" font-size="36" letter-spacing="1.2" font-weight="500">召募智慧招商系统</text>
<text transform="translate(595,1568.4) rotate(-45)" font-size="36" letter-spacing="1.2" font-weight="500">召募智慧招商系统</text>
<text transform="translate(838,1568.4) rotate(-45)" font-size="36" letter-spacing="1.2" font-weight="500">召募智慧招商系统</text>
</g>
<g clip-path="url(#cp1340)" fill="#e1e9fc" font-weight="bold">
<use href="#sail" x="-173" y="1595"/>
<g fill="#ebf0fd" transform="translate(40,1733) rotate(-45)"><text font-size="41" x="-20.5" y="15" letter-spacing="2.4">嘉川</text><text font-size="21" x="22" y="36" text-anchor="middle" font-weight="normal" letter-spacing="1.2">cvsource</text><path d="M-44,-26 h10 v46 q0,9 -5,11 q-5,-2 -5,-11 Z M-62,-10 h10 v30 q0,9 -5,11 q-5,-2 -5,-11 Z"/></g>
<g fill="#ebf0fd" transform="translate(-131,1880) rotate(-45)"><text font-size="41" x="-20.5" y="15" letter-spacing="2.4">嘉川</text><text font-size="21" x="22" y="36" text-anchor="middle" font-weight="normal" letter-spacing="1.2">cvsource</text><path d="M-44,-26 h10 v46 q0,9 -5,11 q-5,-2 -5,-11 Z M-62,-10 h10 v30 q0,9 -5,11 q-5,-2 -5,-11 Z"/></g>
<use href="#sail" x="70" y="1595"/>
<g fill="#ebf0fd" transform="translate(268,1733) rotate(-45)"><text font-size="41" x="-20.5" y="15" letter-spacing="2.4">嘉川</text><text font-size="21" x="22" y="36" text-anchor="middle" font-weight="normal" letter-spacing="1.2">cvsource</text><path d="M-44,-26 h10 v46 q0,9 -5,11 q-5,-2 -5,-11 Z M-62,-10 h10 v30 q0,9 -5,11 q-5,-2 -5,-11 Z"/></g>
<g fill="#ebf0fd" transform="translate(100,1880) rotate(-45)"><text font-size="41" x="-20.5" y="15" letter-spacing="2.4">嘉川</text><text font-size="21" x="22" y="36" text-anchor="middle" font-weight="normal" letter-spacing="1.2">cvsource</text><path d="M-44,-26 h10 v46 q0,9 -5,11 q-5,-2 -5,-11 Z M-62,-10 h10 v30 q0,9 -5,11 q-5,-2 -5,-11 Z"/></g>
<use href="#sail" x="313" y="1595"/>
<g fill="#ebf0fd" transform="translate(496,1733) rotate(-45)"><text font-size="41" x="-20.5" y="15" letter-spacing="2.4">嘉川</text><text font-size="21" x="22" y="36" text-anchor="middle" font-weight="normal" letter-spacing="1.2">cvsource</text><path d="M-44,-26 h10 v46 q0,9 -5,11 q-5,-2 -5,-11 Z M-62,-10 h10 v30 q0,9 -5,11 q-5,-2 -5,-11 Z"/></g>
<g fill="#ebf0fd" transform="translate(331,1880) rotate(-45)"><text font-size="41" x="-20.5" y="15" letter-spacing="2.4">嘉川</text><text font-size="21" x="22" y="36" text-anchor="middle" font-weight="normal" letter-spacing="1.2">cvsource</text><path d="M-44,-26 h10 v46 q0,9 -5,11 q-5,-2 -5,-11 Z M-62,-10 h10 v30 q0,9 -5,11 q-5,-2 -5,-11 Z"/></g>
<use href="#sail" x="556" y="1595"/>
<g fill="#ebf0fd" transform="translate(724,1733) rotate(-45)"><text font-size="41" x="-20.5" y="15" letter-spacing="2.4">嘉川</text><text font-size="21" x="22" y="36" text-anchor="middle" font-weight="normal" letter-spacing="1.2">cvsource</text><path d="M-44,-26 h10 v46 q0,9 -5,11 q-5,-2 -5,-11 Z M-62,-10 h10 v30 q0,9 -5,11 q-5,-2 -5,-11 Z"/></g>
<g fill="#ebf0fd" transform="translate(562,1880) rotate(-45)"><text font-size="41" x="-20.5" y="15" letter-spacing="2.4">嘉川</text><text font-size="21" x="22" y="36" text-anchor="middle" font-weight="normal" letter-spacing="1.2">cvsource</text><path d="M-44,-26 h10 v46 q0,9 -5,11 q-5,-2 -5,-11 Z M-62,-10 h10 v30 q0,9 -5,11 q-5,-2 -5,-11 Z"/></g>
<use href="#sail" x="799" y="1595"/>
<g fill="#ebf0fd" transform="translate(952,1733) rotate(-45)"><text font-size="41" x="-20.5" y="15" letter-spacing="2.4">嘉川</text><text font-size="21" x="22" y="36" text-anchor="middle" font-weight="normal" letter-spacing="1.2">cvsource</text><path d="M-44,-26 h10 v46 q0,9 -5,11 q-5,-2 -5,-11 Z M-62,-10 h10 v30 q0,9 -5,11 q-5,-2 -5,-11 Z"/></g>
<g fill="#ebf0fd" transform="translate(793,1880) rotate(-45)"><text font-size="41" x="-20.5" y="15" letter-spacing="2.4">嘉川</text><text font-size="21" x="22" y="36" text-anchor="middle" font-weight="normal" letter-spacing="1.2">cvsource</text><path d="M-44,-26 h10 v46 q0,9 -5,11 q-5,-2 -5,-11 Z M-62,-10 h10 v30 q0,9 -5,11 q-5,-2 -5,-11 Z"/></g>
<use href="#sail" x="1042" y="1595"/>
<g fill="#ebf0fd" transform="translate(1180,1733) rotate(-45)"><text font-size="41" x="-20.5" y="15" letter-spacing="2.4">嘉川</text><text font-size="21" x="22" y="36" text-anchor="middle" font-weight="normal" letter-spacing="1.2">cvsource</text><path d="M-44,-26 h10 v46 q0,9 -5,11 q-5,-2 -5,-11 Z M-62,-10 h10 v30 q0,9 -5,11 q-5,-2 -5,-11 Z"/></g>
<g fill="#ebf0fd" transform="translate(1024,1880) rotate(-45)"><text font-size="41" x="-20.5" y="15" letter-spacing="2.4">嘉川</text><text font-size="21" x="22" y="36" text-anchor="middle" font-weight="normal" letter-spacing="1.2">cvsource</text><path d="M-44,-26 h10 v46 q0,9 -5,11 q-5,-2 -5,-11 Z M-62,-10 h10 v30 q0,9 -5,11 q-5,-2 -5,-11 Z"/></g>
</g>
<line x1="119.9" y1="1355.4" x2="981" y2="1355.4" stroke="#dcdcdc" stroke-width="1.2"/>
<line x1="119.9" y1="1465.2" x2="981" y2="1465.2" stroke="#dcdcdc" stroke-width="1.2"/>
<line x1="119.9" y1="1575" x2="981" y2="1575" stroke="#dcdcdc" stroke-width="1.2"/>
<line x1="119.9" y1="1684.8" x2="981" y2="1684.8" stroke="#dcdcdc" stroke-width="1.2"/>
<line x1="119.9" y1="1794.6" x2="981" y2="1794.6" stroke="#dcdcdc" stroke-width="1.2"/>
<line x1="119.9" y1="1904.4" x2="981" y2="1904.4" stroke="#dcdcdc" stroke-width="1.2"/>
<text x="95" y="1361.8" font-size="25" fill="#777777" text-anchor="middle" letter-spacing="1.3">250</text>
<text x="95" y="1471.8" font-size="25" fill="#777777" text-anchor="middle" letter-spacing="1.3">200</text>
<text x="95" y="1581.8" font-size="25" fill="#777777" text-anchor="middle" letter-spacing="1.3">150</text>
<text x="95" y="1691.8" font-size="25" fill="#777777" text-anchor="middle" letter-spacing="1.3">100</text>
<text x="98.2" y="1801.8" font-size="25" fill="#777777" text-anchor="middle" letter-spacing="1.3">50</text>
<text x="100.8" y="1911" font-size="25" fill="#777777" text-anchor="middle" letter-spacing="1.3">0</text>
<text x="980.6" y="1364.2" font-size="25" fill="#777777" text-anchor="start" letter-spacing="0.2">25%</text>
<text x="980.6" y="1475.4" font-size="25" fill="#777777" text-anchor="start" letter-spacing="0.2">20%</text>
<text x="980.6" y="1585.7" font-size="25" fill="#777777" text-anchor="start" letter-spacing="0.2">15%</text>
<text x="980.6" y="1693.4" font-size="25" fill="#777777" text-anchor="start" letter-spacing="0.2">10%</text>
<text x="981.4" y="1803.4" font-size="25" fill="#777777" text-anchor="start" letter-spacing="0.2">5%</text>
<text x="981.4" y="1913" font-size="25" fill="#777777" text-anchor="start" letter-spacing="0.2">0</text>
<path d="M156.2,1904.4 L156.2,1866 Q156.2,1858.5 163.7,1858.5 L189.5,1858.5 Q197,1858.5 197,1866 L197,1904.4 Z" fill="url(#gc)"/>
<path d="M203.9,1904.4 L203.9,1486 Q203.9,1478.5 211.4,1478.5 L237.2,1478.5 Q244.7,1478.5 244.7,1486 L244.7,1904.4 Z" fill="url(#gb)"/>
<path d="M320.7,1904.4 L320.7,1840.4 Q320.7,1832.9 328.2,1832.9 L354,1832.9 Q361.5,1832.9 361.5,1840.4 L361.5,1904.4 Z" fill="url(#gc)"/>
<path d="M369.1,1904.4 L369.1,1448.7 Q369.1,1441.2 376.6,1441.2 L402.4,1441.2 Q409.9,1441.2 409.9,1448.7 L409.9,1904.4 Z" fill="url(#gb)"/>
<path d="M486,1904.4 L486,1840.4 Q486,1832.9 493.5,1832.9 L519.3,1832.9 Q526.8,1832.9 526.8,1840.4 L526.8,1904.4 Z" fill="url(#gc)"/>
<path d="M533.7,1904.4 L533.7,1443.1 Q533.7,1435.6 541.2,1435.6 L567,1435.6 Q574.5,1435.6 574.5,1443.1 L574.5,1904.4 Z" fill="url(#gb)"/>
<path d="M651.3,1904.4 L651.3,1875.7 Q651.3,1868.2 658.8,1868.2 L683.9,1868.2 Q691.4,1868.2 691.4,1875.7 L691.4,1904.4 Z" fill="url(#gc)"/>
<path d="M699.7,1904.4 L699.7,1570.4 Q699.7,1562.9 707.2,1562.9 L732.3,1562.9 Q739.8,1562.9 739.8,1570.4 L739.8,1904.4 Z" fill="url(#gb)"/>
<path d="M816.6,1904.4 L816.6,1898.5 Q816.6,1891 824.1,1891 L849.2,1891 Q856.7,1891 856.7,1898.5 L856.7,1904.4 Z" fill="url(#gc)"/>
<path d="M865,1904.4 L865,1791.3 Q865,1783.8 872.5,1783.8 L896.9,1783.8 Q904.4,1783.8 904.4,1791.3 L904.4,1904.4 Z" fill="url(#gb)"/>
<g opacity="0.07">
<clipPath id="co1340"><rect x="81" y="1340" width="919" height="611"/></clipPath>
<clipPath id="co1340t"><rect x="81" y="1340" width="937" height="611"/></clipPath>
<g clip-path="url(#co1340t)" fill="#fff" font-weight="bold">
<text transform="translate(109,1568.4) rotate(-45)" font-size="36" letter-spacing="1.2" font-weight="500">召募智慧招商系统</text>
<text transform="translate(352,1568.4) rotate(-45)" font-size="36" letter-spacing="1.2" font-weight="500">召募智慧招商系统</text>
<text transform="translate(595,1568.4) rotate(-45)" font-size="36" letter-spacing="1.2" font-weight="500">召募智慧招商系统</text>
<text transform="translate(838,1568.4) rotate(-45)" font-size="36" letter-spacing="1.2" font-weight="500">召募智慧招商系统</text>
</g>
<g clip-path="url(#co1340)" fill="#fff" font-weight="bold">
<use href="#sail" x="-173" y="1595"/>
<g fill="#fff" transform="translate(40,1733) rotate(-45)"><text font-size="41" x="-20.5" y="15" letter-spacing="2.4">嘉川</text><text font-size="21" x="22" y="36" text-anchor="middle" font-weight="normal" letter-spacing="1.2">cvsource</text><path d="M-44,-26 h10 v46 q0,9 -5,11 q-5,-2 -5,-11 Z M-62,-10 h10 v30 q0,9 -5,11 q-5,-2 -5,-11 Z"/></g>
<g fill="#fff" transform="translate(-131,1880) rotate(-45)"><text font-size="41" x="-20.5" y="15" letter-spacing="2.4">嘉川</text><text font-size="21" x="22" y="36" text-anchor="middle" font-weight="normal" letter-spacing="1.2">cvsource</text><path d="M-44,-26 h10 v46 q0,9 -5,11 q-5,-2 -5,-11 Z M-62,-10 h10 v30 q0,9 -5,11 q-5,-2 -5,-11 Z"/></g>
<use href="#sail" x="70" y="1595"/>
<g fill="#fff" transform="translate(268,1733) rotate(-45)"><text font-size="41" x="-20.5" y="15" letter-spacing="2.4">嘉川</text><text font-size="21" x="22" y="36" text-anchor="middle" font-weight="normal" letter-spacing="1.2">cvsource</text><path d="M-44,-26 h10 v46 q0,9 -5,11 q-5,-2 -5,-11 Z M-62,-10 h10 v30 q0,9 -5,11 q-5,-2 -5,-11 Z"/></g>
<g fill="#fff" transform="translate(100,1880) rotate(-45)"><text font-size="41" x="-20.5" y="15" letter-spacing="2.4">嘉川</text><text font-size="21" x="22" y="36" text-anchor="middle" font-weight="normal" letter-spacing="1.2">cvsource</text><path d="M-44,-26 h10 v46 q0,9 -5,11 q-5,-2 -5,-11 Z M-62,-10 h10 v30 q0,9 -5,11 q-5,-2 -5,-11 Z"/></g>
<use href="#sail" x="313" y="1595"/>
<g fill="#fff" transform="translate(496,1733) rotate(-45)"><text font-size="41" x="-20.5" y="15" letter-spacing="2.4">嘉川</text><text font-size="21" x="22" y="36" text-anchor="middle" font-weight="normal" letter-spacing="1.2">cvsource</text><path d="M-44,-26 h10 v46 q0,9 -5,11 q-5,-2 -5,-11 Z M-62,-10 h10 v30 q0,9 -5,11 q-5,-2 -5,-11 Z"/></g>
<g fill="#fff" transform="translate(331,1880) rotate(-45)"><text font-size="41" x="-20.5" y="15" letter-spacing="2.4">嘉川</text><text font-size="21" x="22" y="36" text-anchor="middle" font-weight="normal" letter-spacing="1.2">cvsource</text><path d="M-44,-26 h10 v46 q0,9 -5,11 q-5,-2 -5,-11 Z M-62,-10 h10 v30 q0,9 -5,11 q-5,-2 -5,-11 Z"/></g>
<use href="#sail" x="556" y="1595"/>
<g fill="#fff" transform="translate(724,1733) rotate(-45)"><text font-size="41" x="-20.5" y="15" letter-spacing="2.4">嘉川</text><text font-size="21" x="22" y="36" text-anchor="middle" font-weight="normal" letter-spacing="1.2">cvsource</text><path d="M-44,-26 h10 v46 q0,9 -5,11 q-5,-2 -5,-11 Z M-62,-10 h10 v30 q0,9 -5,11 q-5,-2 -5,-11 Z"/></g>
<g fill="#fff" transform="translate(562,1880) rotate(-45)"><text font-size="41" x="-20.5" y="15" letter-spacing="2.4">嘉川</text><text font-size="21" x="22" y="36" text-anchor="middle" font-weight="normal" letter-spacing="1.2">cvsource</text><path d="M-44,-26 h10 v46 q0,9 -5,11 q-5,-2 -5,-11 Z M-62,-10 h10 v30 q0,9 -5,11 q-5,-2 -5,-11 Z"/></g>
<use href="#sail" x="799" y="1595"/>
<g fill="#fff" transform="translate(952,1733) rotate(-45)"><text font-size="41" x="-20.5" y="15" letter-spacing="2.4">嘉川</text><text font-size="21" x="22" y="36" text-anchor="middle" font-weight="normal" letter-spacing="1.2">cvsource</text><path d="M-44,-26 h10 v46 q0,9 -5,11 q-5,-2 -5,-11 Z M-62,-10 h10 v30 q0,9 -5,11 q-5,-2 -5,-11 Z"/></g>
<g fill="#fff" transform="translate(793,1880) rotate(-45)"><text font-size="41" x="-20.5" y="15" letter-spacing="2.4">嘉川</text><text font-size="21" x="22" y="36" text-anchor="middle" font-weight="normal" letter-spacing="1.2">cvsource</text><path d="M-44,-26 h10 v46 q0,9 -5,11 q-5,-2 -5,-11 Z M-62,-10 h10 v30 q0,9 -5,11 q-5,-2 -5,-11 Z"/></g>
<use href="#sail" x="1042" y="1595"/>
<g fill="#fff" transform="translate(1180,1733) rotate(-45)"><text font-size="41" x="-20.5" y="15" letter-spacing="2.4">嘉川</text><text font-size="21" x="22" y="36" text-anchor="middle" font-weight="normal" letter-spacing="1.2">cvsource</text><path d="M-44,-26 h10 v46 q0,9 -5,11 q-5,-2 -5,-11 Z M-62,-10 h10 v30 q0,9 -5,11 q-5,-2 -5,-11 Z"/></g>
<g fill="#fff" transform="translate(1024,1880) rotate(-45)"><text font-size="41" x="-20.5" y="15" letter-spacing="2.4">嘉川</text><text font-size="21" x="22" y="36" text-anchor="middle" font-weight="normal" letter-spacing="1.2">cvsource</text><path d="M-44,-26 h10 v46 q0,9 -5,11 q-5,-2 -5,-11 Z M-62,-10 h10 v30 q0,9 -5,11 q-5,-2 -5,-11 Z"/></g>
</g>
</g>
<polyline points="176.9,1652.8 357.4,1574.6 537.8,1565 717,1464 896.8,1462.6" fill="none" stroke="#4a86ea" stroke-width="1.8" stroke-linejoin="round"/>
<circle cx="176.9" cy="1652.8" r="7.4" fill="#5b8ff0" stroke="#fff" stroke-width="2.4"/>
<circle cx="357.4" cy="1574.6" r="7.4" fill="#5b8ff0" stroke="#fff" stroke-width="2.4"/>
<circle cx="537.8" cy="1565" r="8.6" fill="#5b8ff0" stroke="#fff" stroke-width="4.4"/>
<circle cx="717" cy="1464" r="7.4" fill="#5b8ff0" stroke="#fff" stroke-width="2.4"/>
<circle cx="896.8" cy="1462.6" r="7.4" fill="#5b8ff0" stroke="#fff" stroke-width="2.4"/>
<g filter="url(#sh)"><rect x="157.7" y="1820.7" width="36.6" height="27.6" rx="6" fill="#fff" fill-opacity="0.86"/><path d="M170.5,1848 L181.5,1848 L176,1850.7 Z" fill="#fff" fill-opacity="0.86"/></g>
<text x="176.6" y="1844" font-size="25" fill="#1a1a1a" text-anchor="middle" font-weight="bold" letter-spacing="1.2">21</text>
<g filter="url(#sh)"><rect x="199.1" y="1440.7" width="50.9" height="27.6" rx="6" fill="#fff" fill-opacity="0.86"/><path d="M219.1,1468 L230.1,1468 L224.6,1470.7 Z" fill="#fff" fill-opacity="0.86"/></g>
<text x="225.2" y="1464" font-size="25" fill="#1a1a1a" text-anchor="middle" font-weight="bold" letter-spacing="1.2">192</text>
<g filter="url(#sh)"><rect x="322.7" y="1794.7" width="36.6" height="27.6" rx="6" fill="#fff" fill-opacity="0.86"/><path d="M335.5,1822 L346.5,1822 L341,1824.7 Z" fill="#fff" fill-opacity="0.86"/></g>
<text x="341.6" y="1818" font-size="25" fill="#1a1a1a" text-anchor="middle" font-weight="bold" letter-spacing="1.2">31</text>
<g filter="url(#sh)"><rect x="363.1" y="1401.9" width="50.9" height="27.6" rx="6" fill="#fff" fill-opacity="0.86"/><path d="M383,1429.2 L394,1429.2 L388.5,1431.9 Z" fill="#fff" fill-opacity="0.86"/></g>
<text x="389.1" y="1425.2" font-size="25" fill="#1a1a1a" text-anchor="middle" font-weight="bold" letter-spacing="1.2">209</text>
<g filter="url(#sh)"><rect x="487.7" y="1794.7" width="36.6" height="27.6" rx="6" fill="#fff" fill-opacity="0.86"/><path d="M500.5,1822 L511.5,1822 L506,1824.7 Z" fill="#fff" fill-opacity="0.86"/></g>
<text x="506.6" y="1818" font-size="25" fill="#1a1a1a" text-anchor="middle" font-weight="bold" letter-spacing="1.2">32</text>
<g filter="url(#sh)"><rect x="529.5" y="1396.7" width="50.9" height="27.6" rx="6" fill="#fff" fill-opacity="0.86"/><path d="M549.5,1424 L560.5,1424 L555,1426.7 Z" fill="#fff" fill-opacity="0.86"/></g>
<text x="555.6" y="1420" font-size="25" fill="#1a1a1a" text-anchor="middle" font-weight="bold" letter-spacing="1.2">210</text>
<g filter="url(#sh)"><rect x="651.7" y="1830.4" width="36.6" height="27.6" rx="6" fill="#fff" fill-opacity="0.86"/><path d="M664.5,1857.7 L675.5,1857.7 L670,1860.4 Z" fill="#fff" fill-opacity="0.86"/></g>
<text x="670.6" y="1853.7" font-size="25" fill="#1a1a1a" text-anchor="middle" font-weight="bold" letter-spacing="1.2">31</text>
<g filter="url(#sh)"><rect x="692.9" y="1524.4" width="50.9" height="27.6" rx="6" fill="#fff" fill-opacity="0.86"/><path d="M712.9,1551.7 L723.9,1551.7 L718.4,1554.4 Z" fill="#fff" fill-opacity="0.86"/></g>
<text x="719" y="1547.7" font-size="25" fill="#1a1a1a" text-anchor="middle" font-weight="bold" letter-spacing="1.2">153</text>
<g filter="url(#sh)"><rect x="817.7" y="1852.5" width="36.6" height="27.6" rx="6" fill="#fff" fill-opacity="0.86"/><path d="M830.5,1879.8 L841.5,1879.8 L836,1882.5 Z" fill="#fff" fill-opacity="0.86"/></g>
<text x="836.6" y="1875.8" font-size="25" fill="#1a1a1a" text-anchor="middle" font-weight="bold" letter-spacing="1.2">11</text>
<g filter="url(#sh)"><rect x="864" y="1745.3" width="36.6" height="27.6" rx="6" fill="#fff" fill-opacity="0.86"/><path d="M876.8,1772.6 L887.8,1772.6 L882.3,1775.3 Z" fill="#fff" fill-opacity="0.86"/></g>
<text x="882.9" y="1768.6" font-size="25" fill="#1a1a1a" text-anchor="middle" font-weight="bold" letter-spacing="1.2">54</text>
<g filter="url(#sh)"><rect x="143" y="1597.5" width="70" height="35" rx="6" fill="#fff" fill-opacity="0.86"/><path d="M172.5,1632.2 L183.5,1632.2 L178,1637 Z" fill="#fff" fill-opacity="0.86"/></g>
<text x="178" y="1623.3" font-size="23" fill="#484848" text-anchor="middle">10.9%</text>
<g filter="url(#sh)"><rect x="324" y="1521" width="70" height="35" rx="6" fill="#fff" fill-opacity="0.8"/><path d="M353.5,1555.7 L364.5,1555.7 L359,1560.5 Z" fill="#fff" fill-opacity="0.8"/></g>
<text x="359" y="1546.8" font-size="23" fill="#484848" text-anchor="middle">14.8%</text>
<g filter="url(#sh)"><rect x="504.5" y="1507" width="70" height="35" rx="6" fill="#fff" fill-opacity="0.8"/><path d="M534,1541.7 L545,1541.7 L539.5,1546.5 Z" fill="#fff" fill-opacity="0.8"/></g>
<text x="539.5" y="1532.8" font-size="23" fill="#484848" text-anchor="middle">15.2%</text>
<g filter="url(#sh)"><rect x="681.3" y="1405.7" width="70" height="35" rx="6" fill="#fff" fill-opacity="0.86"/><path d="M710.8,1440.4 L721.8,1440.4 L716.3,1445.2 Z" fill="#fff" fill-opacity="0.86"/></g>
<text x="716.3" y="1431.5" font-size="23" fill="#484848" text-anchor="middle">20.3%</text>
<g filter="url(#sh)"><rect x="862.5" y="1405" width="70" height="35" rx="6" fill="#fff" fill-opacity="0.86"/><path d="M892,1439.7 L903,1439.7 L897.5,1444.5 Z" fill="#fff" fill-opacity="0.86"/></g>
<text x="897.5" y="1430.8" font-size="23" fill="#484848" text-anchor="middle">20.4%</text>
<text x="207.4" y="1939" font-size="25" fill="#777777" text-anchor="middle" letter-spacing="1">2021</text>
<text x="372" y="1939" font-size="25" fill="#777777" text-anchor="middle" letter-spacing="1">2022</text>
<text x="535.9" y="1939" font-size="25" fill="#777777" text-anchor="middle" letter-spacing="1">2023</text>
<text x="699.7" y="1939" font-size="25" fill="#777777" text-anchor="middle" letter-spacing="1">2024</text>
<text x="863.6" y="1939" font-size="25" fill="#777777" text-anchor="middle" letter-spacing="1">2025</text>
<rect x="233" y="1979.8" width="20" height="10" fill="#0cc3e3"/>
<text x="260.5" y="1993.3" font-size="25" fill="#777777" text-anchor="start" letter-spacing="0.55">获得迁入地投资企业数量</text>
<rect x="568.4" y="1979.8" width="21" height="10" fill="#1c78ee"/>
<text x="598" y="1993.3" font-size="25" fill="#777777" text-anchor="start" letter-spacing="0.55">迁入企业数量</text>
<line x1="775.8" y1="1984.8" x2="796.3" y2="1984.8" stroke="#2273ee" stroke-width="2"/>
<text x="805.5" y="1993.3" font-size="25" fill="#777777" text-anchor="start" letter-spacing="0.55">占比</text>
<text x="74.6" y="1309" font-size="25" fill="#8a8a8a" text-anchor="start" letter-spacing="0.77">2021-2025年迁入安徽企业获得迁入投资趋势</text></g>
<g><clipPath id="cp2145"><rect x="81" y="2145" width="919" height="610"/></clipPath>
<clipPath id="cp2145t"><rect x="81" y="2145" width="938.5" height="610"/></clipPath>
<g clip-path="url(#cp2145t)" fill="#e1e9fc" font-weight="bold">
<text transform="translate(110.5,2385.4) rotate(-45)" font-size="36" letter-spacing="1.2" font-weight="500">召募智慧招商系统</text>
<text transform="translate(353.5,2385.4) rotate(-45)" font-size="36" letter-spacing="1.2" font-weight="500">召募智慧招商系统</text>
<text transform="translate(596.5,2385.4) rotate(-45)" font-size="36" letter-spacing="1.2" font-weight="500">召募智慧招商系统</text>
<text transform="translate(839.5,2385.4) rotate(-45)" font-size="36" letter-spacing="1.2" font-weight="500">召募智慧招商系统</text>
</g>
<g clip-path="url(#cp2145)" fill="#e1e9fc" font-weight="bold">
<use href="#sail" x="-171.5" y="2412"/>
<g fill="#ebf0fd" transform="translate(40,2542) rotate(-45)"><text font-size="41" x="-20.5" y="15" letter-spacing="2.4">嘉川</text><text font-size="21" x="22" y="36" text-anchor="middle" font-weight="normal" letter-spacing="1.2">cvsource</text><path d="M-44,-26 h10 v46 q0,9 -5,11 q-5,-2 -5,-11 Z M-62,-10 h10 v30 q0,9 -5,11 q-5,-2 -5,-11 Z"/></g>
<g fill="#ebf0fd" transform="translate(-131,2680) rotate(-45)"><text font-size="41" x="-20.5" y="15" letter-spacing="2.4">嘉川</text><text font-size="21" x="22" y="36" text-anchor="middle" font-weight="normal" letter-spacing="1.2">cvsource</text><path d="M-44,-26 h10 v46 q0,9 -5,11 q-5,-2 -5,-11 Z M-62,-10 h10 v30 q0,9 -5,11 q-5,-2 -5,-11 Z"/></g>
<use href="#sail" x="71.5" y="2412"/>
<g fill="#ebf0fd" transform="translate(268,2542) rotate(-45)"><text font-size="41" x="-20.5" y="15" letter-spacing="2.4">嘉川</text><text font-size="21" x="22" y="36" text-anchor="middle" font-weight="normal" letter-spacing="1.2">cvsource</text><path d="M-44,-26 h10 v46 q0,9 -5,11 q-5,-2 -5,-11 Z M-62,-10 h10 v30 q0,9 -5,11 q-5,-2 -5,-11 Z"/></g>
<g fill="#ebf0fd" transform="translate(100,2680) rotate(-45)"><text font-size="41" x="-20.5" y="15" letter-spacing="2.4">嘉川</text><text font-size="21" x="22" y="36" text-anchor="middle" font-weight="normal" letter-spacing="1.2">cvsource</text><path d="M-44,-26 h10 v46 q0,9 -5,11 q-5,-2 -5,-11 Z M-62,-10 h10 v30 q0,9 -5,11 q-5,-2 -5,-11 Z"/></g>
<use href="#sail" x="314.5" y="2412"/>
<g fill="#ebf0fd" transform="translate(496,2542) rotate(-45)"><text font-size="41" x="-20.5" y="15" letter-spacing="2.4">嘉川</text><text font-size="21" x="22" y="36" text-anchor="middle" font-weight="normal" letter-spacing="1.2">cvsource</text><path d="M-44,-26 h10 v46 q0,9 -5,11 q-5,-2 -5,-11 Z M-62,-10 h10 v30 q0,9 -5,11 q-5,-2 -5,-11 Z"/></g>
<g fill="#ebf0fd" transform="translate(331,2680) rotate(-45)"><text font-size="41" x="-20.5" y="15" letter-spacing="2.4">嘉川</text><text font-size="21" x="22" y="36" text-anchor="middle" font-weight="normal" letter-spacing="1.2">cvsource</text><path d="M-44,-26 h10 v46 q0,9 -5,11 q-5,-2 -5,-11 Z M-62,-10 h10 v30 q0,9 -5,11 q-5,-2 -5,-11 Z"/></g>
<use href="#sail" x="557.5" y="2412"/>
<g fill="#ebf0fd" transform="translate(724,2542) rotate(-45)"><text font-size="41" x="-20.5" y="15" letter-spacing="2.4">嘉川</text><text font-size="21" x="22" y="36" text-anchor="middle" font-weight="normal" letter-spacing="1.2">cvsource</text><path d="M-44,-26 h10 v46 q0,9 -5,11 q-5,-2 -5,-11 Z M-62,-10 h10 v30 q0,9 -5,11 q-5,-2 -5,-11 Z"/></g>
<g fill="#ebf0fd" transform="translate(562,2680) rotate(-45)"><text font-size="41" x="-20.5" y="15" letter-spacing="2.4">嘉川</text><text font-size="21" x="22" y="36" text-anchor="middle" font-weight="normal" letter-spacing="1.2">cvsource</text><path d="M-44,-26 h10 v46 q0,9 -5,11 q-5,-2 -5,-11 Z M-62,-10 h10 v30 q0,9 -5,11 q-5,-2 -5,-11 Z"/></g>
<use href="#sail" x="800.5" y="2412"/>
<g fill="#ebf0fd" transform="translate(952,2542) rotate(-45)"><text font-size="41" x="-20.5" y="15" letter-spacing="2.4">嘉川</text><text font-size="21" x="22" y="36" text-anchor="middle" font-weight="normal" letter-spacing="1.2">cvsource</text><path d="M-44,-26 h10 v46 q0,9 -5,11 q-5,-2 -5,-11 Z M-62,-10 h10 v30 q0,9 -5,11 q-5,-2 -5,-11 Z"/></g>
<g fill="#ebf0fd" transform="translate(793,2680) rotate(-45)"><text font-size="41" x="-20.5" y="15" letter-spacing="2.4">嘉川</text><text font-size="21" x="22" y="36" text-anchor="middle" font-weight="normal" letter-spacing="1.2">cvsource</text><path d="M-44,-26 h10 v46 q0,9 -5,11 q-5,-2 -5,-11 Z M-62,-10 h10 v30 q0,9 -5,11 q-5,-2 -5,-11 Z"/></g>
<use href="#sail" x="1043.5" y="2412"/>
<g fill="#ebf0fd" transform="translate(1180,2542) rotate(-45)"><text font-size="41" x="-20.5" y="15" letter-spacing="2.4">嘉川</text><text font-size="21" x="22" y="36" text-anchor="middle" font-weight="normal" letter-spacing="1.2">cvsource</text><path d="M-44,-26 h10 v46 q0,9 -5,11 q-5,-2 -5,-11 Z M-62,-10 h10 v30 q0,9 -5,11 q-5,-2 -5,-11 Z"/></g>
<g fill="#ebf0fd" transform="translate(1024,2680) rotate(-45)"><text font-size="41" x="-20.5" y="15" letter-spacing="2.4">嘉川</text><text font-size="21" x="22" y="36" text-anchor="middle" font-weight="normal" letter-spacing="1.2">cvsource</text><path d="M-44,-26 h10 v46 q0,9 -5,11 q-5,-2 -5,-11 Z M-62,-10 h10 v30 q0,9 -5,11 q-5,-2 -5,-11 Z"/></g>
</g>
<line x1="126" y1="2164.2" x2="979.3" y2="2164.2" stroke="#dcdcdc" stroke-width="1.2"/>
<line x1="126" y1="2224.7" x2="979.3" y2="2224.7" stroke="#dcdcdc" stroke-width="1.2"/>
<line x1="126" y1="2285.2" x2="979.3" y2="2285.2" stroke="#dcdcdc" stroke-width="1.2"/>
<line x1="126" y1="2345.7" x2="979.3" y2="2345.7" stroke="#dcdcdc" stroke-width="1.2"/>
<line x1="126" y1="2406.2" x2="979.3" y2="2406.2" stroke="#dcdcdc" stroke-width="1.2"/>
<line x1="126" y1="2466.7" x2="979.3" y2="2466.7" stroke="#dcdcdc" stroke-width="1.2"/>
<line x1="126" y1="2527.2" x2="979.3" y2="2527.2" stroke="#dcdcdc" stroke-width="1.2"/>
<line x1="126" y1="2587.7" x2="979.3" y2="2587.7" stroke="#dcdcdc" stroke-width="1.2"/>
<line x1="126" y1="2648.2" x2="979.3" y2="2648.2" stroke="#dcdcdc" stroke-width="1.2"/>
<line x1="126" y1="2708.7" x2="979.3" y2="2708.7" stroke="#dcdcdc" stroke-width="1.2"/>
<text x="97.1" y="2168.9" font-size="25" fill="#777777" text-anchor="middle" letter-spacing="1.3">900</text>
<text x="97.1" y="2229.4" font-size="25" fill="#777777" text-anchor="middle" letter-spacing="1.3">800</text>
<text x="97.1" y="2289.9" font-size="25" fill="#777777" text-anchor="middle" letter-spacing="1.3">700</text>
<text x="97.1" y="2350.4" font-size="25" fill="#777777" text-anchor="middle" letter-spacing="1.3">600</text>
<text x="97.1" y="2410.9" font-size="25" fill="#777777" text-anchor="middle" letter-spacing="1.3">500</text>
<text x="97.1" y="2471.4" font-size="25" fill="#777777" text-anchor="middle" letter-spacing="1.3">400</text>
<text x="97.1" y="2531.9" font-size="25" fill="#777777" text-anchor="middle" letter-spacing="1.3">300</text>
<text x="97.1" y="2592.4" font-size="25" fill="#777777" text-anchor="middle" letter-spacing="1.3">200</text>
<text x="97.1" y="2652.9" font-size="25" fill="#777777" text-anchor="middle" letter-spacing="1.3">100</text>
<text x="113.2" y="2715" font-size="25" fill="#777777" text-anchor="middle" letter-spacing="1.3">0</text>
<text x="980.6" y="2170.5" font-size="25" fill="#777777" text-anchor="start" letter-spacing="0.2">25%</text>
<text x="980.6" y="2278.4" font-size="25" fill="#777777" text-anchor="start" letter-spacing="0.2">20%</text>
<text x="980.6" y="2388" font-size="25" fill="#777777" text-anchor="start" letter-spacing="0.2">15%</text>
<text x="980.6" y="2497.6" font-size="25" fill="#777777" text-anchor="start" letter-spacing="0.2">10%</text>
<text x="981.4" y="2607.1" font-size="25" fill="#777777" text-anchor="start" letter-spacing="0.2">5%</text>
<text x="981.4" y="2716.7" font-size="25" fill="#777777" text-anchor="start" letter-spacing="0.2">0</text>
<path d="M162.4,2708.7 L162.4,2647.8 Q162.4,2640.3 169.9,2640.3 L194.5,2640.3 Q202,2640.3 202,2647.8 L202,2708.7 Z" fill="url(#gc)"/>
<path d="M210.1,2708.7 L210.1,2189.2 Q210.1,2181.7 217.6,2181.7 L242.2,2181.7 Q249.7,2181.7 249.7,2189.2 L249.7,2708.7 Z" fill="url(#gb)"/>
<path d="M325.6,2708.7 L325.6,2657 Q325.6,2649.5 333.1,2649.5 L357.7,2649.5 Q365.2,2649.5 365.2,2657 L365.2,2708.7 Z" fill="url(#gc)"/>
<path d="M373.3,2708.7 L373.3,2426.4 Q373.3,2418.9 380.8,2418.9 L405.8,2418.9 Q413.3,2418.9 413.3,2426.4 L413.3,2708.7 Z" fill="url(#gb)"/>
<path d="M488.7,2708.7 L488.7,2659.1 Q488.7,2651.6 496.2,2651.6 L521.2,2651.6 Q528.7,2651.6 528.7,2659.1 L528.7,2708.7 Z" fill="url(#gc)"/>
<path d="M537.1,2708.7 L537.1,2382.8 Q537.1,2375.3 544.6,2375.3 L569.6,2375.3 Q577.1,2375.3 577.1,2382.8 L577.1,2708.7 Z" fill="url(#gb)"/>
<path d="M652.7,2708.7 L652.7,2680.5 Q652.7,2673 660.2,2673 L684.8,2673 Q692.3,2673 692.3,2680.5 L692.3,2708.7 Z" fill="url(#gc)"/>
<path d="M699.7,2708.7 L699.7,2256.3 Q699.7,2248.8 707.2,2248.8 L732.2,2248.8 Q739.7,2248.8 739.7,2256.3 L739.7,2708.7 Z" fill="url(#gb)"/>
<path d="M816.6,2708.7 L816.6,2701.9 Q816.6,2694.4 824.1,2694.4 L848.7,2694.4 Q856.2,2694.4 856.2,2701.9 L856.2,2708.7 Z" fill="url(#gc)"/>
<path d="M864.3,2708.7 L864.3,2407.7 Q864.3,2400.2 871.8,2400.2 L896.4,2400.2 Q903.9,2400.2 903.9,2407.7 L903.9,2708.7 Z" fill="url(#gb)"/>
<g opacity="0.07">
<clipPath id="co2145"><rect x="81" y="2145" width="919" height="610"/></clipPath>
<clipPath id="co2145t"><rect x="81" y="2145" width="938.5" height="610"/></clipPath>
<g clip-path="url(#co2145t)" fill="#fff" font-weight="bold">
<text transform="translate(110.5,2385.4) rotate(-45)" font-size="36" letter-spacing="1.2" font-weight="500">召募智慧招商系统</text>
<text transform="translate(353.5,2385.4) rotate(-45)" font-size="36" letter-spacing="1.2" font-weight="500">召募智慧招商系统</text>
<text transform="translate(596.5,2385.4) rotate(-45)" font-size="36" letter-spacing="1.2" font-weight="500">召募智慧招商系统</text>
<text transform="translate(839.5,2385.4) rotate(-45)" font-size="36" letter-spacing="1.2" font-weight="500">召募智慧招商系统</text>
</g>
<g clip-path="url(#co2145)" fill="#fff" font-weight="bold">
<use href="#sail" x="-171.5" y="2412"/>
<g fill="#fff" transform="translate(40,2542) rotate(-45)"><text font-size="41" x="-20.5" y="15" letter-spacing="2.4">嘉川</text><text font-size="21" x="22" y="36" text-anchor="middle" font-weight="normal" letter-spacing="1.2">cvsource</text><path d="M-44,-26 h10 v46 q0,9 -5,11 q-5,-2 -5,-11 Z M-62,-10 h10 v30 q0,9 -5,11 q-5,-2 -5,-11 Z"/></g>
<g fill="#fff" transform="translate(-131,2680) rotate(-45)"><text font-size="41" x="-20.5" y="15" letter-spacing="2.4">嘉川</text><text font-size="21" x="22" y="36" text-anchor="middle" font-weight="normal" letter-spacing="1.2">cvsource</text><path d="M-44,-26 h10 v46 q0,9 -5,11 q-5,-2 -5,-11 Z M-62,-10 h10 v30 q0,9 -5,11 q-5,-2 -5,-11 Z"/></g>
<use href="#sail" x="71.5" y="2412"/>
<g fill="#fff" transform="translate(268,2542) rotate(-45)"><text font-size="41" x="-20.5" y="15" letter-spacing="2.4">嘉川</text><text font-size="21" x="22" y="36" text-anchor="middle" font-weight="normal" letter-spacing="1.2">cvsource</text><path d="M-44,-26 h10 v46 q0,9 -5,11 q-5,-2 -5,-11 Z M-62,-10 h10 v30 q0,9 -5,11 q-5,-2 -5,-11 Z"/></g>
<g fill="#fff" transform="translate(100,2680) rotate(-45)"><text font-size="41" x="-20.5" y="15" letter-spacing="2.4">嘉川</text><text font-size="21" x="22" y="36" text-anchor="middle" font-weight="normal" letter-spacing="1.2">cvsource</text><path d="M-44,-26 h10 v46 q0,9 -5,11 q-5,-2 -5,-11 Z M-62,-10 h10 v30 q0,9 -5,11 q-5,-2 -5,-11 Z"/></g>
<use href="#sail" x="314.5" y="2412"/>
<g fill="#fff" transform="translate(496,2542) rotate(-45)"><text font-size="41" x="-20.5" y="15" letter-spacing="2.4">嘉川</text><text font-size="21" x="22" y="36" text-anchor="middle" font-weight="normal" letter-spacing="1.2">cvsource</text><path d="M-44,-26 h10 v46 q0,9 -5,11 q-5,-2 -5,-11 Z M-62,-10 h10 v30 q0,9 -5,11 q-5,-2 -5,-11 Z"/></g>
<g fill="#fff" transform="translate(331,2680) rotate(-45)"><text font-size="41" x="-20.5" y="15" letter-spacing="2.4">嘉川</text><text font-size="21" x="22" y="36" text-anchor="middle" font-weight="normal" letter-spacing="1.2">cvsource</text><path d="M-44,-26 h10 v46 q0,9 -5,11 q-5,-2 -5,-11 Z M-62,-10 h10 v30 q0,9 -5,11 q-5,-2 -5,-11 Z"/></g>
<use href="#sail" x="557.5" y="2412"/>
<g fill="#fff" transform="translate(724,2542) rotate(-45)"><text font-size="41" x="-20.5" y="15" letter-spacing="2.4">嘉川</text><text font-size="21" x="22" y="36" text-anchor="middle" font-weight="normal" letter-spacing="1.2">cvsource</text><path d="M-44,-26 h10 v46 q0,9 -5,11 q-5,-2 -5,-11 Z M-62,-10 h10 v30 q0,9 -5,11 q-5,-2 -5,-11 Z"/></g>
<g fill="#fff" transform="translate(562,2680) rotate(-45)"><text font-size="41" x="-20.5" y="15" letter-spacing="2.4">嘉川</text><text font-size="21" x="22" y="36" text-anchor="middle" font-weight="normal" letter-spacing="1.2">cvsource</text><path d="M-44,-26 h10 v46 q0,9 -5,11 q-5,-2 -5,-11 Z M-62,-10 h10 v30 q0,9 -5,11 q-5,-2 -5,-11 Z"/></g>
<use href="#sail" x="800.5" y="2412"/>
<g fill="#fff" transform="translate(952,2542) rotate(-45)"><text font-size="41" x="-20.5" y="15" letter-spacing="2.4">嘉川</text><text font-size="21" x="22" y="36" text-anchor="middle" font-weight="normal" letter-spacing="1.2">cvsource</text><path d="M-44,-26 h10 v46 q0,9 -5,11 q-5,-2 -5,-11 Z M-62,-10 h10 v30 q0,9 -5,11 q-5,-2 -5,-11 Z"/></g>
<g fill="#fff" transform="translate(793,2680) rotate(-45)"><text font-size="41" x="-20.5" y="15" letter-spacing="2.4">嘉川</text><text font-size="21" x="22" y="36" text-anchor="middle" font-weight="normal" letter-spacing="1.2">cvsource</text><path d="M-44,-26 h10 v46 q0,9 -5,11 q-5,-2 -5,-11 Z M-62,-10 h10 v30 q0,9 -5,11 q-5,-2 -5,-11 Z"/></g>
<use href="#sail" x="1043.5" y="2412"/>
<g fill="#fff" transform="translate(1180,2542) rotate(-45)"><text font-size="41" x="-20.5" y="15" letter-spacing="2.4">嘉川</text><text font-size="21" x="22" y="36" text-anchor="middle" font-weight="normal" letter-spacing="1.2">cvsource</text><path d="M-44,-26 h10 v46 q0,9 -5,11 q-5,-2 -5,-11 Z M-62,-10 h10 v30 q0,9 -5,11 q-5,-2 -5,-11 Z"/></g>
<g fill="#fff" transform="translate(1024,2680) rotate(-45)"><text font-size="41" x="-20.5" y="15" letter-spacing="2.4">嘉川</text><text font-size="21" x="22" y="36" text-anchor="middle" font-weight="normal" letter-spacing="1.2">cvsource</text><path d="M-44,-26 h10 v46 q0,9 -5,11 q-5,-2 -5,-11 Z M-62,-10 h10 v30 q0,9 -5,11 q-5,-2 -5,-11 Z"/></g>
</g>
</g>
<polyline points="167.9,2459 340.1,2324.1 512.2,2381.5 684.5,2544.4 857.4,2594.2" fill="none" stroke="#4a86ea" stroke-width="1.8" stroke-linejoin="round"/>
<circle cx="167.9" cy="2459" r="7.4" fill="#5b8ff0" stroke="#fff" stroke-width="2.4"/>
<circle cx="340.1" cy="2324.1" r="7.4" fill="#5b8ff0" stroke="#fff" stroke-width="2.4"/>
<circle cx="512.2" cy="2381.5" r="7.4" fill="#5b8ff0" stroke="#fff" stroke-width="2.4"/>
<circle cx="684.5" cy="2544.4" r="7.4" fill="#5b8ff0" stroke="#fff" stroke-width="2.4"/>
<circle cx="857.4" cy="2594.2" r="8.6" fill="#5b8ff0" stroke="#fff" stroke-width="4.4"/>
<g filter="url(#sh)"><rect x="156.2" y="2602.7" width="50.9" height="27.6" rx="6" fill="#fff" fill-opacity="0.86"/><path d="M176.2,2630 L187.2,2630 L181.7,2632.7 Z" fill="#fff" fill-opacity="0.86"/></g>
<text x="182.3" y="2626" font-size="25" fill="#1a1a1a" text-anchor="middle" font-weight="bold" letter-spacing="1.2">109</text>
<g filter="url(#sh)"><rect x="203.4" y="2143.9" width="50.9" height="27.6" rx="6" fill="#fff" fill-opacity="0.86"/><path d="M223.3,2171.2 L234.3,2171.2 L228.8,2173.9 Z" fill="#fff" fill-opacity="0.86"/></g>
<text x="229.4" y="2167.2" font-size="25" fill="#1a1a1a" text-anchor="middle" font-weight="bold" letter-spacing="1.2">869</text>
<g filter="url(#sh)"><rect x="325.9" y="2611" width="36.6" height="27.6" rx="6" fill="#fff" fill-opacity="0.86"/><path d="M338.7,2638.3 L349.7,2638.3 L344.2,2641 Z" fill="#fff" fill-opacity="0.86"/></g>
<text x="344.8" y="2634.3" font-size="25" fill="#1a1a1a" text-anchor="middle" font-weight="bold" letter-spacing="1.2">98</text>
<g filter="url(#sh)"><rect x="367.2" y="2381" width="50.9" height="27.6" rx="6" fill="#fff" fill-opacity="0.86"/><path d="M387.1,2408.3 L398.1,2408.3 L392.6,2411 Z" fill="#fff" fill-opacity="0.86"/></g>
<text x="393.2" y="2404.3" font-size="25" fill="#1a1a1a" text-anchor="middle" font-weight="bold" letter-spacing="1.2">475</text>
<g filter="url(#sh)"><rect x="488.4" y="2613.1" width="36.6" height="27.6" rx="6" fill="#fff" fill-opacity="0.86"/><path d="M501.2,2640.4 L512.2,2640.4 L506.7,2643.1 Z" fill="#fff" fill-opacity="0.86"/></g>
<text x="507.3" y="2636.4" font-size="25" fill="#1a1a1a" text-anchor="middle" font-weight="bold" letter-spacing="1.2">96</text>
<g filter="url(#sh)"><rect x="531.8" y="2337.5" width="50.9" height="27.6" rx="6" fill="#fff" fill-opacity="0.86"/><path d="M551.7,2364.8 L562.7,2364.8 L557.2,2367.5 Z" fill="#fff" fill-opacity="0.86"/></g>
<text x="557.8" y="2360.8" font-size="25" fill="#1a1a1a" text-anchor="middle" font-weight="bold" letter-spacing="1.2">557</text>
<g filter="url(#sh)"><rect x="654.5" y="2633.8" width="36.6" height="27.6" rx="6" fill="#fff" fill-opacity="0.86"/><path d="M667.3,2661.1 L678.3,2661.1 L672.8,2663.8 Z" fill="#fff" fill-opacity="0.86"/></g>
<text x="673.4" y="2657.1" font-size="25" fill="#1a1a1a" text-anchor="middle" font-weight="bold" letter-spacing="1.2">58</text>
<g filter="url(#sh)"><rect x="692.9" y="2210.3" width="50.9" height="27.6" rx="6" fill="#fff" fill-opacity="0.86"/><path d="M712.9,2237.6 L723.9,2237.6 L718.4,2240.3 Z" fill="#fff" fill-opacity="0.86"/></g>
<text x="719" y="2233.6" font-size="25" fill="#1a1a1a" text-anchor="middle" font-weight="bold" letter-spacing="1.2">763</text>
<g filter="url(#sh)"><rect x="817.7" y="2656.7" width="36.6" height="27.6" rx="6" fill="#fff" fill-opacity="0.86"/><path d="M830.5,2684 L841.5,2684 L836,2686.7 Z" fill="#fff" fill-opacity="0.86"/></g>
<text x="836.6" y="2680" font-size="25" fill="#1a1a1a" text-anchor="middle" font-weight="bold" letter-spacing="1.2">24</text>
<g filter="url(#sh)"><rect x="855.4" y="2361.7" width="50.9" height="27.6" rx="6" fill="#fff" fill-opacity="0.86"/><path d="M875.4,2389 L886.4,2389 L880.9,2391.7 Z" fill="#fff" fill-opacity="0.86"/></g>
<text x="881.5" y="2385" font-size="25" fill="#1a1a1a" text-anchor="middle" font-weight="bold" letter-spacing="1.2">510</text>
<g filter="url(#sh)"><rect x="139.8" y="2403.4" width="70" height="35" rx="6" fill="#fff" fill-opacity="0.86"/><path d="M169.3,2438.1 L180.3,2438.1 L174.8,2442.9 Z" fill="#fff" fill-opacity="0.86"/></g>
<text x="174.8" y="2429.2" font-size="23" fill="#484848" text-anchor="middle">12.5%</text>
<g filter="url(#sh)"><rect x="305.8" y="2272.1" width="70" height="35" rx="6" fill="#fff" fill-opacity="0.86"/><path d="M335.3,2306.8 L346.3,2306.8 L340.8,2311.6 Z" fill="#fff" fill-opacity="0.86"/></g>
<text x="340.8" y="2297.9" font-size="23" fill="#484848" text-anchor="middle">20.6%</text>
<g filter="url(#sh)"><rect x="464.8" y="2323.2" width="70" height="35" rx="6" fill="#fff" fill-opacity="0.86"/><path d="M494.3,2357.9 L505.3,2357.9 L499.8,2362.7 Z" fill="#fff" fill-opacity="0.86"/></g>
<text x="499.8" y="2349" font-size="23" fill="#484848" text-anchor="middle">17.2%</text>
<g filter="url(#sh)"><rect x="650.2" y="2491.6" width="70" height="35" rx="6" fill="#fff" fill-opacity="0.8"/><path d="M679.7,2526.3 L690.7,2526.3 L685.2,2531.1 Z" fill="#fff" fill-opacity="0.8"/></g>
<text x="685.2" y="2517.4" font-size="23" fill="#484848" text-anchor="middle">7.6%</text>
<g filter="url(#sh)"><rect x="826.5" y="2536.6" width="70" height="35" rx="6" fill="#fff" fill-opacity="0.8"/><path d="M856,2571.3 L867,2571.3 L861.5,2576.1 Z" fill="#fff" fill-opacity="0.8"/></g>
<text x="861.5" y="2562.4" font-size="23" fill="#484848" text-anchor="middle">4.7%</text>
<text x="214.2" y="2743" font-size="25" fill="#777777" text-anchor="middle" letter-spacing="1">2021</text>
<text x="376.7" y="2743" font-size="25" fill="#777777" text-anchor="middle" letter-spacing="1">2022</text>
<text x="539.2" y="2743" font-size="25" fill="#777777" text-anchor="middle" letter-spacing="1">2023</text>
<text x="703.2" y="2743" font-size="25" fill="#777777" text-anchor="middle" letter-spacing="1">2024</text>
<text x="866.4" y="2743" font-size="25" fill="#777777" text-anchor="middle" letter-spacing="1">2025</text>
<rect x="233" y="2779.9" width="20" height="10" fill="#0cc3e3"/>
<text x="260.5" y="2793.4" font-size="25" fill="#777777" text-anchor="start" letter-spacing="0.55">获得迁入地投资企业数量</text>
<rect x="568.4" y="2779.9" width="21" height="10" fill="#1c78ee"/>
<text x="598" y="2793.4" font-size="25" fill="#777777" text-anchor="start" letter-spacing="0.55">迁入企业数量</text>
<line x1="775.8" y1="2784.9" x2="796.3" y2="2784.9" stroke="#2273ee" stroke-width="2"/>
<text x="805.5" y="2793.4" font-size="25" fill="#777777" text-anchor="start" letter-spacing="0.55">占比</text>
<text x="79.4" y="2112" font-size="25" fill="#8a8a8a" text-anchor="start" letter-spacing="0.72">2021-2025迁入江苏企业获得迁入地投资趋势</text></g>
<g><clipPath id="cp2945"><rect x="82" y="2945" width="918" height="587"/></clipPath>
<clipPath id="cp2945t"><rect x="82" y="2945" width="955" height="587"/></clipPath>
<g clip-path="url(#cp2945t)" fill="#e1e9fc" font-weight="bold">
<text transform="translate(128,3181.4) rotate(-45)" font-size="36" letter-spacing="1.2" font-weight="500">召募智慧招商系统</text>
<text transform="translate(371,3181.4) rotate(-45)" font-size="36" letter-spacing="1.2" font-weight="500">召募智慧招商系统</text>
<text transform="translate(614,3181.4) rotate(-45)" font-size="36" letter-spacing="1.2" font-weight="500">召募智慧招商系统</text>
<text transform="translate(857,3181.4) rotate(-45)" font-size="36" letter-spacing="1.2" font-weight="500">召募智慧招商系统</text>
</g>
<g clip-path="url(#cp2945)" fill="#e1e9fc" font-weight="bold">
<use href="#sail" x="-154" y="3208"/>
<g fill="#ebf0fd" transform="translate(40,3303) rotate(-45)"><text font-size="41" x="-20.5" y="15" letter-spacing="2.4">嘉川</text><text font-size="21" x="22" y="36" text-anchor="middle" font-weight="normal" letter-spacing="1.2">cvsource</text><path d="M-44,-26 h10 v46 q0,9 -5,11 q-5,-2 -5,-11 Z M-62,-10 h10 v30 q0,9 -5,11 q-5,-2 -5,-11 Z"/></g>
<g fill="#ebf0fd" transform="translate(-131,3455) rotate(-45)"><text font-size="41" x="-20.5" y="15" letter-spacing="2.4">嘉川</text><text font-size="21" x="22" y="36" text-anchor="middle" font-weight="normal" letter-spacing="1.2">cvsource</text><path d="M-44,-26 h10 v46 q0,9 -5,11 q-5,-2 -5,-11 Z M-62,-10 h10 v30 q0,9 -5,11 q-5,-2 -5,-11 Z"/></g>
<use href="#sail" x="89" y="3208"/>
<g fill="#ebf0fd" transform="translate(268,3303) rotate(-45)"><text font-size="41" x="-20.5" y="15" letter-spacing="2.4">嘉川</text><text font-size="21" x="22" y="36" text-anchor="middle" font-weight="normal" letter-spacing="1.2">cvsource</text><path d="M-44,-26 h10 v46 q0,9 -5,11 q-5,-2 -5,-11 Z M-62,-10 h10 v30 q0,9 -5,11 q-5,-2 -5,-11 Z"/></g>
<g fill="#ebf0fd" transform="translate(100,3455) rotate(-45)"><text font-size="41" x="-20.5" y="15" letter-spacing="2.4">嘉川</text><text font-size="21" x="22" y="36" text-anchor="middle" font-weight="normal" letter-spacing="1.2">cvsource</text><path d="M-44,-26 h10 v46 q0,9 -5,11 q-5,-2 -5,-11 Z M-62,-10 h10 v30 q0,9 -5,11 q-5,-2 -5,-11 Z"/></g>
<use href="#sail" x="332" y="3208"/>
<g fill="#ebf0fd" transform="translate(496,3303) rotate(-45)"><text font-size="41" x="-20.5" y="15" letter-spacing="2.4">嘉川</text><text font-size="21" x="22" y="36" text-anchor="middle" font-weight="normal" letter-spacing="1.2">cvsource</text><path d="M-44,-26 h10 v46 q0,9 -5,11 q-5,-2 -5,-11 Z M-62,-10 h10 v30 q0,9 -5,11 q-5,-2 -5,-11 Z"/></g>
<g fill="#ebf0fd" transform="translate(331,3455) rotate(-45)"><text font-size="41" x="-20.5" y="15" letter-spacing="2.4">嘉川</text><text font-size="21" x="22" y="36" text-anchor="middle" font-weight="normal" letter-spacing="1.2">cvsource</text><path d="M-44,-26 h10 v46 q0,9 -5,11 q-5,-2 -5,-11 Z M-62,-10 h10 v30 q0,9 -5,11 q-5,-2 -5,-11 Z"/></g>
<use href="#sail" x="575" y="3208"/>
<g fill="#ebf0fd" transform="translate(724,3303) rotate(-45)"><text font-size="41" x="-20.5" y="15" letter-spacing="2.4">嘉川</text><text font-size="21" x="22" y="36" text-anchor="middle" font-weight="normal" letter-spacing="1.2">cvsource</text><path d="M-44,-26 h10 v46 q0,9 -5,11 q-5,-2 -5,-11 Z M-62,-10 h10 v30 q0,9 -5,11 q-5,-2 -5,-11 Z"/></g>
<g fill="#ebf0fd" transform="translate(562,3455) rotate(-45)"><text font-size="41" x="-20.5" y="15" letter-spacing="2.4">嘉川</text><text font-size="21" x="22" y="36" text-anchor="middle" font-weight="normal" letter-spacing="1.2">cvsource</text><path d="M-44,-26 h10 v46 q0,9 -5,11 q-5,-2 -5,-11 Z M-62,-10 h10 v30 q0,9 -5,11 q-5,-2 -5,-11 Z"/></g>
<use href="#sail" x="818" y="3208"/>
<g fill="#ebf0fd" transform="translate(952,3303) rotate(-45)"><text font-size="41" x="-20.5" y="15" letter-spacing="2.4">嘉川</text><text font-size="21" x="22" y="36" text-anchor="middle" font-weight="normal" letter-spacing="1.2">cvsource</text><path d="M-44,-26 h10 v46 q0,9 -5,11 q-5,-2 -5,-11 Z M-62,-10 h10 v30 q0,9 -5,11 q-5,-2 -5,-11 Z"/></g>
<g fill="#ebf0fd" transform="translate(793,3455) rotate(-45)"><text font-size="41" x="-20.5" y="15" letter-spacing="2.4">嘉川</text><text font-size="21" x="22" y="36" text-anchor="middle" font-weight="normal" letter-spacing="1.2">cvsource</text><path d="M-44,-26 h10 v46 q0,9 -5,11 q-5,-2 -5,-11 Z M-62,-10 h10 v30 q0,9 -5,11 q-5,-2 -5,-11 Z"/></g>
<use href="#sail" x="1061" y="3208"/>
<g fill="#ebf0fd" transform="translate(1180,3303) rotate(-45)"><text font-size="41" x="-20.5" y="15" letter-spacing="2.4">嘉川</text><text font-size="21" x="22" y="36" text-anchor="middle" font-weight="normal" letter-spacing="1.2">cvsource</text><path d="M-44,-26 h10 v46 q0,9 -5,11 q-5,-2 -5,-11 Z M-62,-10 h10 v30 q0,9 -5,11 q-5,-2 -5,-11 Z"/></g>
<g fill="#ebf0fd" transform="translate(1024,3455) rotate(-45)"><text font-size="41" x="-20.5" y="15" letter-spacing="2.4">嘉川</text><text font-size="21" x="22" y="36" text-anchor="middle" font-weight="normal" letter-spacing="1.2">cvsource</text><path d="M-44,-26 h10 v46 q0,9 -5,11 q-5,-2 -5,-11 Z M-62,-10 h10 v30 q0,9 -5,11 q-5,-2 -5,-11 Z"/></g>
</g>
<line x1="137.4" y1="2962.7" x2="977" y2="2962.7" stroke="#dcdcdc" stroke-width="1.2"/>
<line x1="137.4" y1="3035.3" x2="977" y2="3035.3" stroke="#dcdcdc" stroke-width="1.2"/>
<line x1="137.4" y1="3107.9" x2="977" y2="3107.9" stroke="#dcdcdc" stroke-width="1.2"/>
<line x1="137.4" y1="3180.5" x2="977" y2="3180.5" stroke="#dcdcdc" stroke-width="1.2"/>
<line x1="137.4" y1="3253.1" x2="977" y2="3253.1" stroke="#dcdcdc" stroke-width="1.2"/>
<line x1="137.4" y1="3325.7" x2="977" y2="3325.7" stroke="#dcdcdc" stroke-width="1.2"/>
<line x1="137.4" y1="3398.3" x2="977" y2="3398.3" stroke="#dcdcdc" stroke-width="1.2"/>
<text x="103.1" y="2969.2" font-size="25" fill="#777777" text-anchor="middle" letter-spacing="1.3">1200</text>
<text x="103.1" y="3041.8" font-size="25" fill="#777777" text-anchor="middle" letter-spacing="1.3">1000</text>
<text x="110" y="3114.4" font-size="25" fill="#777777" text-anchor="middle" letter-spacing="1.3">800</text>
<text x="110" y="3187" font-size="25" fill="#777777" text-anchor="middle" letter-spacing="1.3">600</text>
<text x="110" y="3259.6" font-size="25" fill="#777777" text-anchor="middle" letter-spacing="1.3">400</text>
<text x="110" y="3332.2" font-size="25" fill="#777777" text-anchor="middle" letter-spacing="1.3">200</text>
<text x="125.4" y="3404" font-size="25" fill="#777777" text-anchor="middle" letter-spacing="1.3">0</text>
<text x="980.6" y="2969.9" font-size="25" fill="#777777" text-anchor="start" letter-spacing="0.2">18%</text>
<text x="980.6" y="3018.3" font-size="25" fill="#777777" text-anchor="start" letter-spacing="0.2">16%</text>
<text x="980.6" y="3066.8" font-size="25" fill="#777777" text-anchor="start" letter-spacing="0.2">14%</text>
<text x="980.6" y="3115.2" font-size="25" fill="#777777" text-anchor="start" letter-spacing="0.2">12%</text>
<text x="980.6" y="3163.6" font-size="25" fill="#777777" text-anchor="start" letter-spacing="0.2">10%</text>
<text x="980.6" y="3212.1" font-size="25" fill="#777777" text-anchor="start" letter-spacing="0.2">8%</text>
<text x="980.6" y="3260.5" font-size="25" fill="#777777" text-anchor="start" letter-spacing="0.2">6%</text>
<text x="980.6" y="3308.9" font-size="25" fill="#777777" text-anchor="start" letter-spacing="0.2">4%</text>
<text x="980.6" y="3357.3" font-size="25" fill="#777777" text-anchor="start" letter-spacing="0.2">2%</text>
<text x="981.4" y="3405.3" font-size="25" fill="#777777" text-anchor="start" letter-spacing="0.2">0</text>
<path d="M160.1,3398.3 L160.1,3378.1 Q160.1,3370.1 168.1,3370.1 L176.3,3370.1 Q184.3,3370.1 184.3,3378.1 L184.3,3398.3 Z" fill="url(#gc)"/>
<path d="M191.4,3398.3 L191.4,3036.7 Q191.4,3028.7 199.4,3028.7 L207.6,3028.7 Q215.6,3028.7 215.6,3036.7 L215.6,3398.3 Z" fill="url(#gb4)"/>
<path d="M242.3,3398.3 L242.3,3383.6 Q242.3,3375.6 250.3,3375.6 L258.5,3375.6 Q266.5,3375.6 266.5,3383.6 L266.5,3398.3 Z" fill="url(#gc)"/>
<path d="M273,3398.3 L273,3206.1 Q273,3198.1 281,3198.1 L289.2,3198.1 Q297.2,3198.1 297.2,3206.1 L297.2,3398.3 Z" fill="url(#gb4)"/>
<path d="M324.5,3398.3 L324.5,3387.1 Q324.5,3379.1 332.5,3379.1 L340.7,3379.1 Q348.7,3379.1 348.7,3387.1 L348.7,3398.3 Z" fill="url(#gc)"/>
<path d="M354.6,3398.3 L354.6,3240 Q354.6,3232 362.6,3232 L370.8,3232 Q378.8,3232 378.8,3240 L378.8,3398.3 Z" fill="url(#gb4)"/>
<path d="M406.7,3398.3 L406.7,3389.8 Q406.7,3381.8 414.7,3381.8 L422.9,3381.8 Q430.9,3381.8 430.9,3389.8 L430.9,3398.3 Z" fill="url(#gc)"/>
<path d="M437.2,3398.3 L437.2,3096.9 Q437.2,3088.9 445.2,3088.9 L453.4,3088.9 Q461.4,3088.9 461.4,3096.9 L461.4,3398.3 Z" fill="url(#gb4)"/>
<path d="M488.9,3398.3 L488.9,3391.9 Q488.9,3383.9 496.9,3383.9 L505.1,3383.9 Q513.1,3383.9 513.1,3391.9 L513.1,3398.3 Z" fill="url(#gc)"/>
<path d="M519.8,3398.3 L519.8,3252.4 Q519.8,3244.4 527.8,3244.4 L536,3244.4 Q544,3244.4 544,3252.4 L544,3398.3 Z" fill="url(#gb4)"/>
<path d="M571.1,3398.3 L571.1,3396.1 Q571.1,3388.1 579.1,3388.1 L587.3,3388.1 Q595.3,3388.1 595.3,3396.1 L595.3,3398.3 Z" fill="url(#gc)"/>
<path d="M602.2,3398.3 L602.2,3277.8 Q602.2,3269.8 610.2,3269.8 L618.4,3269.8 Q626.4,3269.8 626.4,3277.8 L626.4,3398.3 Z" fill="url(#gb4)"/>
<path d="M653.3,3398.3 L653.3,3396.1 Q653.3,3388.1 661.3,3388.1 L669.5,3388.1 Q677.5,3388.1 677.5,3396.1 L677.5,3398.3 Z" fill="url(#gc)"/>
<path d="M684.9,3398.3 L684.9,3031.9 Q684.9,3023.9 692.9,3023.9 L701.1,3023.9 Q709.1,3023.9 709.1,3031.9 L709.1,3398.3 Z" fill="url(#gb4)"/>
<path d="M735.5,3398.3 L735.5,3398.3 Q735.5,3391.5 742.3,3391.5 L752.9,3391.5 Q759.7,3391.5 759.7,3398.3 L759.7,3398.3 Z" fill="url(#gc)"/>
<path d="M766.8,3398.3 L766.8,3356 Q766.8,3348 774.8,3348 L783,3348 Q791,3348 791,3356 L791,3398.3 Z" fill="url(#gb4)"/>
<path d="M817.7,3398.3 L817.7,3398.3 Q817.7,3393.6 822.4,3393.6 L837.2,3393.6 Q841.9,3393.6 841.9,3398.3 L841.9,3398.3 Z" fill="url(#gc)"/>
<path d="M849.3,3398.3 L849.3,3318.6 Q849.3,3310.6 857.3,3310.6 L865.5,3310.6 Q873.5,3310.6 873.5,3318.6 L873.5,3398.3 Z" fill="url(#gb4)"/>
<path d="M899.9,3398.3 L899.9,3398.3 Q899.9,3394.3 903.9,3394.3 L920.1,3394.3 Q924.1,3394.3 924.1,3398.3 L924.1,3398.3 Z" fill="url(#gc)"/>
<path d="M932.5,3398.3 L932.5,3277.8 Q932.5,3269.8 940.5,3269.8 L948.7,3269.8 Q956.7,3269.8 956.7,3277.8 L956.7,3398.3 Z" fill="url(#gb4)"/>
<g opacity="0.07">
<clipPath id="co2945"><rect x="82" y="2945" width="918" height="587"/></clipPath>
<clipPath id="co2945t"><rect x="82" y="2945" width="955" height="587"/></clipPath>
<g clip-path="url(#co2945t)" fill="#fff" font-weight="bold">
<text transform="translate(128,3181.4) rotate(-45)" font-size="36" letter-spacing="1.2" font-weight="500">召募智慧招商系统</text>
<text transform="translate(371,3181.4) rotate(-45)" font-size="36" letter-spacing="1.2" font-weight="500">召募智慧招商系统</text>
<text transform="translate(614,3181.4) rotate(-45)" font-size="36" letter-spacing="1.2" font-weight="500">召募智慧招商系统</text>
<text transform="translate(857,3181.4) rotate(-45)" font-size="36" letter-spacing="1.2" font-weight="500">召募智慧招商系统</text>
</g>
<g clip-path="url(#co2945)" fill="#fff" font-weight="bold">
<use href="#sail" x="-154" y="3208"/>
<g fill="#fff" transform="translate(40,3303) rotate(-45)"><text font-size="41" x="-20.5" y="15" letter-spacing="2.4">嘉川</text><text font-size="21" x="22" y="36" text-anchor="middle" font-weight="normal" letter-spacing="1.2">cvsource</text><path d="M-44,-26 h10 v46 q0,9 -5,11 q-5,-2 -5,-11 Z M-62,-10 h10 v30 q0,9 -5,11 q-5,-2 -5,-11 Z"/></g>
<g fill="#fff" transform="translate(-131,3455) rotate(-45)"><text font-size="41" x="-20.5" y="15" letter-spacing="2.4">嘉川</text><text font-size="21" x="22" y="36" text-anchor="middle" font-weight="normal" letter-spacing="1.2">cvsource</text><path d="M-44,-26 h10 v46 q0,9 -5,11 q-5,-2 -5,-11 Z M-62,-10 h10 v30 q0,9 -5,11 q-5,-2 -5,-11 Z"/></g>
<use href="#sail" x="89" y="3208"/>
<g fill="#fff" transform="translate(268,3303) rotate(-45)"><text font-size="41" x="-20.5" y="15" letter-spacing="2.4">嘉川</text><text font-size="21" x="22" y="36" text-anchor="middle" font-weight="normal" letter-spacing="1.2">cvsource</text><path d="M-44,-26 h10 v46 q0,9 -5,11 q-5,-2 -5,-11 Z M-62,-10 h10 v30 q0,9 -5,11 q-5,-2 -5,-11 Z"/></g>
<g fill="#fff" transform="translate(100,3455) rotate(-45)"><text font-size="41" x="-20.5" y="15" letter-spacing="2.4">嘉川</text><text font-size="21" x="22" y="36" text-anchor="middle" font-weight="normal" letter-spacing="1.2">cvsource</text><path d="M-44,-26 h10 v46 q0,9 -5,11 q-5,-2 -5,-11 Z M-62,-10 h10 v30 q0,9 -5,11 q-5,-2 -5,-11 Z"/></g>
<use href="#sail" x="332" y="3208"/>
<g fill="#fff" transform="translate(496,3303) rotate(-45)"><text font-size="41" x="-20.5" y="15" letter-spacing="2.4">嘉川</text><text font-size="21" x="22" y="36" text-anchor="middle" font-weight="normal" letter-spacing="1.2">cvsource</text><path d="M-44,-26 h10 v46 q0,9 -5,11 q-5,-2 -5,-11 Z M-62,-10 h10 v30 q0,9 -5,11 q-5,-2 -5,-11 Z"/></g>
<g fill="#fff" transform="translate(331,3455) rotate(-45)"><text font-size="41" x="-20.5" y="15" letter-spacing="2.4">嘉川</text><text font-size="21" x="22" y="36" text-anchor="middle" font-weight="normal" letter-spacing="1.2">cvsource</text><path d="M-44,-26 h10 v46 q0,9 -5,11 q-5,-2 -5,-11 Z M-62,-10 h10 v30 q0,9 -5,11 q-5,-2 -5,-11 Z"/></g>
<use href="#sail" x="575" y="3208"/>
<g fill="#fff" transform="translate(724,3303) rotate(-45)"><text font-size="41" x="-20.5" y="15" letter-spacing="2.4">嘉川</text><text font-size="21" x="22" y="36" text-anchor="middle" font-weight="normal" letter-spacing="1.2">cvsource</text><path d="M-44,-26 h10 v46 q0,9 -5,11 q-5,-2 -5,-11 Z M-62,-10 h10 v30 q0,9 -5,11 q-5,-2 -5,-11 Z"/></g>
<g fill="#fff" transform="translate(562,3455) rotate(-45)"><text font-size="41" x="-20.5" y="15" letter-spacing="2.4">嘉川</text><text font-size="21" x="22" y="36" text-anchor="middle" font-weight="normal" letter-spacing="1.2">cvsource</text><path d="M-44,-26 h10 v46 q0,9 -5,11 q-5,-2 -5,-11 Z M-62,-10 h10 v30 q0,9 -5,11 q-5,-2 -5,-11 Z"/></g>
<use href="#sail" x="818" y="3208"/>
<g fill="#fff" transform="translate(952,3303) rotate(-45)"><text font-size="41" x="-20.5" y="15" letter-spacing="2.4">嘉川</text><text font-size="21" x="22" y="36" text-anchor="middle" font-weight="normal" letter-spacing="1.2">cvsource</text><path d="M-44,-26 h10 v46 q0,9 -5,11 q-5,-2 -5,-11 Z M-62,-10 h10 v30 q0,9 -5,11 q-5,-2 -5,-11 Z"/></g>
<g fill="#fff" transform="translate(793,3455) rotate(-45)"><text font-size="41" x="-20.5" y="15" letter-spacing="2.4">嘉川</text><text font-size="21" x="22" y="36" text-anchor="middle" font-weight="normal" letter-spacing="1.2">cvsource</text><path d="M-44,-26 h10 v46 q0,9 -5,11 q-5,-2 -5,-11 Z M-62,-10 h10 v30 q0,9 -5,11 q-5,-2 -5,-11 Z"/></g>
<use href="#sail" x="1061" y="3208"/>
<g fill="#fff" transform="translate(1180,3303) rotate(-45)"><text font-size="41" x="-20.5" y="15" letter-spacing="2.4">嘉川</text><text font-size="21" x="22" y="36" text-anchor="middle" font-weight="normal" letter-spacing="1.2">cvsource</text><path d="M-44,-26 h10 v46 q0,9 -5,11 q-5,-2 -5,-11 Z M-62,-10 h10 v30 q0,9 -5,11 q-5,-2 -5,-11 Z"/></g>
<g fill="#fff" transform="translate(1024,3455) rotate(-45)"><text font-size="41" x="-20.5" y="15" letter-spacing="2.4">嘉川</text><text font-size="21" x="22" y="36" text-anchor="middle" font-weight="normal" letter-spacing="1.2">cvsource</text><path d="M-44,-26 h10 v46 q0,9 -5,11 q-5,-2 -5,-11 Z M-62,-10 h10 v30 q0,9 -5,11 q-5,-2 -5,-11 Z"/></g>
</g>
</g>
<polyline points="174.8,3220.2 256.4,3170.4 337.3,3166.3 418.2,3270.5 498.4,3206.4 579,3188.7 661,3317.5 742.6,3012.1 823.5,3174.6 904.8,3251.6" fill="none" stroke="#4a86ea" stroke-width="1.8" stroke-linejoin="round"/>
<circle cx="174.8" cy="3220.2" r="7.2" fill="#5b8ff0" stroke="#fff" stroke-width="2.4"/>
<circle cx="256.4" cy="3170.4" r="7.2" fill="#5b8ff0" stroke="#fff" stroke-width="2.4"/>
<circle cx="337.3" cy="3166.3" r="7.2" fill="#5b8ff0" stroke="#fff" stroke-width="2.4"/>
<circle cx="418.2" cy="3270.5" r="7.2" fill="#5b8ff0" stroke="#fff" stroke-width="2.4"/>
<circle cx="498.4" cy="3206.4" r="7.2" fill="#5b8ff0" stroke="#fff" stroke-width="2.4"/>
<circle cx="579" cy="3188.7" r="7.2" fill="#5b8ff0" stroke="#fff" stroke-width="2.4"/>
<circle cx="661" cy="3317.5" r="7.2" fill="#5b8ff0" stroke="#fff" stroke-width="2.4"/>
<circle cx="742.6" cy="3012.1" r="7.2" fill="#5b8ff0" stroke="#fff" stroke-width="2.4"/>
<circle cx="823.5" cy="3174.6" r="7.2" fill="#5b8ff0" stroke="#fff" stroke-width="2.4"/>
<circle cx="904.8" cy="3251.6" r="7.2" fill="#5b8ff0" stroke="#fff" stroke-width="2.4"/>
<g filter="url(#sh)"><rect x="151.7" y="3333" width="36.6" height="27.6" rx="6" fill="#fff" fill-opacity="0.86"/><path d="M164.5,3360.3 L175.5,3360.3 L170,3363 Z" fill="#fff" fill-opacity="0.86"/></g>
<text x="170.6" y="3356.3" font-size="25" fill="#1a1a1a" text-anchor="middle" font-weight="bold" letter-spacing="1.2">71</text>
<g filter="url(#sh)"><rect x="170.6" y="2990.9" width="65.2" height="27.6" rx="6" fill="#fff" fill-opacity="0.86"/><path d="M197.7,3018.2 L208.7,3018.2 L203.2,3020.9 Z" fill="#fff" fill-opacity="0.86"/></g>
<text x="203.8" y="3014.2" font-size="25" fill="#1a1a1a" text-anchor="middle" font-weight="bold" letter-spacing="1.2">1021</text>
<g filter="url(#sh)"><rect x="234.7" y="3337.1" width="36.6" height="27.6" rx="6" fill="#fff" fill-opacity="0.86"/><path d="M247.5,3364.4 L258.5,3364.4 L253,3367.1 Z" fill="#fff" fill-opacity="0.86"/></g>
<text x="253.6" y="3360.4" font-size="25" fill="#1a1a1a" text-anchor="middle" font-weight="bold" letter-spacing="1.2">51</text>
<g filter="url(#sh)"><rect x="260.1" y="3160.3" width="50.9" height="27.6" rx="6" fill="#fff" fill-opacity="0.86"/><path d="M280,3187.6 L291,3187.6 L285.5,3190.3 Z" fill="#fff" fill-opacity="0.86"/></g>
<text x="286.1" y="3183.6" font-size="25" fill="#1a1a1a" text-anchor="middle" font-weight="bold" letter-spacing="1.2">563</text>
<g filter="url(#sh)"><rect x="316.2" y="3342" width="36.6" height="27.6" rx="6" fill="#fff" fill-opacity="0.86"/><path d="M329,3369.3 L340,3369.3 L334.5,3372 Z" fill="#fff" fill-opacity="0.86"/></g>
<text x="335.1" y="3365.3" font-size="25" fill="#1a1a1a" text-anchor="middle" font-weight="bold" letter-spacing="1.2">43</text>
<g filter="url(#sh)"><rect x="339.6" y="3193.5" width="50.9" height="27.6" rx="6" fill="#fff" fill-opacity="0.86"/><path d="M359.5,3220.8 L370.5,3220.8 L365,3223.5 Z" fill="#fff" fill-opacity="0.86"/></g>
<text x="365.6" y="3216.8" font-size="25" fill="#1a1a1a" text-anchor="middle" font-weight="bold" letter-spacing="1.2">466</text>
<g filter="url(#sh)"><rect x="398.5" y="3345.4" width="36.6" height="27.6" rx="6" fill="#fff" fill-opacity="0.86"/><path d="M411.3,3372.7 L422.3,3372.7 L416.8,3375.4 Z" fill="#fff" fill-opacity="0.86"/></g>
<text x="417.4" y="3368.7" font-size="25" fill="#1a1a1a" text-anchor="middle" font-weight="bold" letter-spacing="1.2">41</text>
<g filter="url(#sh)"><rect x="425.2" y="3051" width="50.9" height="27.6" rx="6" fill="#fff" fill-opacity="0.86"/><path d="M445.2,3078.3 L456.2,3078.3 L450.7,3081 Z" fill="#fff" fill-opacity="0.86"/></g>
<text x="451.3" y="3074.3" font-size="25" fill="#1a1a1a" text-anchor="middle" font-weight="bold" letter-spacing="1.2">862</text>
<g filter="url(#sh)"><rect x="480.8" y="3346.8" width="36.6" height="27.6" rx="6" fill="#fff" fill-opacity="0.86"/><path d="M493.6,3374.1 L504.6,3374.1 L499.1,3376.8 Z" fill="#fff" fill-opacity="0.86"/></g>
<text x="499.7" y="3370.1" font-size="25" fill="#1a1a1a" text-anchor="middle" font-weight="bold" letter-spacing="1.2">31</text>
<g filter="url(#sh)"><rect x="505.4" y="3205.9" width="50.9" height="27.6" rx="6" fill="#fff" fill-opacity="0.86"/><path d="M525.4,3233.2 L536.4,3233.2 L530.9,3235.9 Z" fill="#fff" fill-opacity="0.86"/></g>
<text x="531.5" y="3229.2" font-size="25" fill="#1a1a1a" text-anchor="middle" font-weight="bold" letter-spacing="1.2">412</text>
<g filter="url(#sh)"><rect x="564.6" y="3350.3" width="36.6" height="27.6" rx="6" fill="#fff" fill-opacity="0.86"/><path d="M577.4,3377.6 L588.4,3377.6 L582.9,3380.3 Z" fill="#fff" fill-opacity="0.86"/></g>
<text x="583.5" y="3373.6" font-size="25" fill="#1a1a1a" text-anchor="middle" font-weight="bold" letter-spacing="1.2">29</text>
<g filter="url(#sh)"><rect x="587.1" y="3231.7" width="50.9" height="27.6" rx="6" fill="#fff" fill-opacity="0.86"/><path d="M607.1,3259 L618.1,3259 L612.6,3261.7 Z" fill="#fff" fill-opacity="0.86"/></g>
<text x="613.2" y="3255" font-size="25" fill="#1a1a1a" text-anchor="middle" font-weight="bold" letter-spacing="1.2">349</text>
<g filter="url(#sh)"><rect x="646.2" y="3352.3" width="36.6" height="27.6" rx="6" fill="#fff" fill-opacity="0.86"/><path d="M659,3379.6 L670,3379.6 L664.5,3382.3 Z" fill="#fff" fill-opacity="0.86"/></g>
<text x="665.1" y="3375.6" font-size="25" fill="#1a1a1a" text-anchor="middle" font-weight="bold" letter-spacing="1.2">28</text>
<g filter="url(#sh)"><rect x="663.7" y="2986.1" width="65.2" height="27.6" rx="6" fill="#fff" fill-opacity="0.86"/><path d="M690.8,3013.4 L701.8,3013.4 L696.3,3016.1 Z" fill="#fff" fill-opacity="0.86"/></g>
<text x="696.9" y="3009.4" font-size="25" fill="#1a1a1a" text-anchor="middle" font-weight="bold" letter-spacing="1.2">1022</text>
<g filter="url(#sh)"><rect x="728.4" y="3353.7" width="36.6" height="27.6" rx="6" fill="#fff" fill-opacity="0.86"/><path d="M741.2,3381 L752.2,3381 L746.7,3383.7 Z" fill="#fff" fill-opacity="0.86"/></g>
<text x="747.3" y="3377" font-size="25" fill="#1a1a1a" text-anchor="middle" font-weight="bold" letter-spacing="1.2">23</text>
<g filter="url(#sh)"><rect x="754.4" y="3310.2" width="50.9" height="27.6" rx="6" fill="#fff" fill-opacity="0.86"/><path d="M774.4,3337.5 L785.4,3337.5 L779.9,3340.2 Z" fill="#fff" fill-opacity="0.86"/></g>
<text x="780.5" y="3333.5" font-size="25" fill="#1a1a1a" text-anchor="middle" font-weight="bold" letter-spacing="1.2">145</text>
<g filter="url(#sh)"><rect x="809.3" y="3355.8" width="36.6" height="27.6" rx="6" fill="#fff" fill-opacity="0.86"/><path d="M822.1,3383.1 L833.1,3383.1 L827.6,3385.8 Z" fill="#fff" fill-opacity="0.86"/></g>
<text x="828.2" y="3379.1" font-size="25" fill="#1a1a1a" text-anchor="middle" font-weight="bold" letter-spacing="1.2">22</text>
<g filter="url(#sh)"><rect x="836" y="3272.8" width="50.9" height="27.6" rx="6" fill="#fff" fill-opacity="0.86"/><path d="M856,3300.1 L867,3300.1 L861.5,3302.8 Z" fill="#fff" fill-opacity="0.86"/></g>
<text x="862.1" y="3296.1" font-size="25" fill="#1a1a1a" text-anchor="middle" font-weight="bold" letter-spacing="1.2">247</text>
<g filter="url(#sh)"><rect x="892.3" y="3355.8" width="36.6" height="27.6" rx="6" fill="#fff" fill-opacity="0.86"/><path d="M905.1,3383.1 L916.1,3383.1 L910.6,3385.8 Z" fill="#fff" fill-opacity="0.86"/></g>
<text x="911.2" y="3379.1" font-size="25" fill="#1a1a1a" text-anchor="middle" font-weight="bold" letter-spacing="1.2">20</text>
<g filter="url(#sh)"><rect x="919" y="3231.7" width="50.9" height="27.6" rx="6" fill="#fff" fill-opacity="0.86"/><path d="M939,3259 L950,3259 L944.5,3261.7 Z" fill="#fff" fill-opacity="0.86"/></g>
<text x="945.1" y="3255" font-size="25" fill="#1a1a1a" text-anchor="middle" font-weight="bold" letter-spacing="1.2">358</text>
<g filter="url(#sh)"><rect x="145" y="3171.7" width="70" height="35" rx="6" fill="#fff" fill-opacity="0.86"/><path d="M174.5,3206.4 L185.5,3206.4 L180,3211.2 Z" fill="#fff" fill-opacity="0.86"/></g>
<text x="180" y="3197.5" font-size="23" fill="#484848" text-anchor="middle">6.9%</text>
<g filter="url(#sh)"><rect x="226.3" y="3126.7" width="70" height="35" rx="6" fill="#fff" fill-opacity="0.86"/><path d="M255.8,3161.4 L266.8,3161.4 L261.3,3166.2 Z" fill="#fff" fill-opacity="0.86"/></g>
<text x="261.3" y="3152.5" font-size="23" fill="#484848" text-anchor="middle">9.1%</text>
<g filter="url(#sh)"><rect x="303.7" y="3117.7" width="70" height="35" rx="6" fill="#fff" fill-opacity="0.86"/><path d="M333.2,3152.4 L344.2,3152.4 L338.7,3157.2 Z" fill="#fff" fill-opacity="0.86"/></g>
<text x="338.7" y="3143.5" font-size="23" fill="#484848" text-anchor="middle">9.2%</text>
<g filter="url(#sh)"><rect x="385.3" y="3221.4" width="70" height="35" rx="6" fill="#fff" fill-opacity="0.8"/><path d="M414.8,3256.1 L425.8,3256.1 L420.3,3260.9 Z" fill="#fff" fill-opacity="0.8"/></g>
<text x="420.3" y="3247.2" font-size="23" fill="#484848" text-anchor="middle">4.8%</text>
<g filter="url(#sh)"><rect x="466.9" y="3160.5" width="70" height="35" rx="6" fill="#fff" fill-opacity="0.86"/><path d="M496.4,3195.2 L507.4,3195.2 L501.9,3200 Z" fill="#fff" fill-opacity="0.86"/></g>
<text x="501.9" y="3186.3" font-size="23" fill="#484848" text-anchor="middle">7.5%</text>
<g filter="url(#sh)"><rect x="546.5" y="3138.4" width="70" height="35" rx="6" fill="#fff" fill-opacity="0.86"/><path d="M576,3173.1 L587,3173.1 L581.5,3177.9 Z" fill="#fff" fill-opacity="0.86"/></g>
<text x="581.5" y="3164.2" font-size="23" fill="#484848" text-anchor="middle">8.3%</text>
<g filter="url(#sh)"><rect x="627.4" y="3270.3" width="70" height="35" rx="6" fill="#fff" fill-opacity="0.8"/><path d="M656.9,3305 L667.9,3305 L662.4,3309.8 Z" fill="#fff" fill-opacity="0.8"/></g>
<text x="662.4" y="3296.1" font-size="23" fill="#484848" text-anchor="middle">2.7%</text>
<g filter="url(#sh)"><rect x="709" y="2951.7" width="70" height="35" rx="6" fill="#fff" fill-opacity="0.86"/><path d="M738.5,2986.4 L749.5,2986.4 L744,2991.2 Z" fill="#fff" fill-opacity="0.86"/></g>
<text x="744" y="2977.5" font-size="23" fill="#484848" text-anchor="middle">15.9%</text>
<g filter="url(#sh)"><rect x="789.2" y="3127.4" width="70" height="35" rx="6" fill="#fff" fill-opacity="0.86"/><path d="M818.7,3162.1 L829.7,3162.1 L824.2,3166.9 Z" fill="#fff" fill-opacity="0.86"/></g>
<text x="824.2" y="3153.2" font-size="23" fill="#484848" text-anchor="middle">8.9%</text>
<g filter="url(#sh)"><rect x="871.5" y="3203.4" width="70" height="35" rx="6" fill="#fff" fill-opacity="0.86"/><path d="M901,3238.1 L912,3238.1 L906.5,3242.9 Z" fill="#fff" fill-opacity="0.86"/></g>
<text x="906.5" y="3229.2" font-size="23" fill="#484848" text-anchor="middle">5.6%</text>
<g filter="url(#sh)"><rect x="478.6" y="3047.1" width="70" height="35" rx="6" fill="#fff" fill-opacity="0.86"/><path d="M508.1,3081.8 L519.1,3081.8 L513.6,3086.6 Z" fill="#fff" fill-opacity="0.86"/></g>
<text x="191.2" y="3435" font-size="25" fill="#777777" text-anchor="middle" letter-spacing="0.5">苏州</text>
<text x="273.8" y="3435" font-size="25" fill="#777777" text-anchor="middle" letter-spacing="0.5">合肥</text>
<text x="356.4" y="3435" font-size="25" fill="#777777" text-anchor="middle" letter-spacing="0.5">深圳</text>
<text x="439" y="3435" font-size="25" fill="#777777" text-anchor="middle" letter-spacing="0.5">无锡</text>
<text x="521.6" y="3435" font-size="25" fill="#777777" text-anchor="middle" letter-spacing="0.5">成都</text>
<text x="604.2" y="3435" font-size="25" fill="#777777" text-anchor="middle" letter-spacing="0.5">常州</text>
<text x="686.8" y="3435" font-size="25" fill="#777777" text-anchor="middle" letter-spacing="0.5">南京</text>
<text x="769.4" y="3435" font-size="25" fill="#777777" text-anchor="middle" letter-spacing="0.5">珠海</text>
<text x="852" y="3435" font-size="25" fill="#777777" text-anchor="middle" letter-spacing="0.5">杭州</text>
<text x="934.6" y="3435" font-size="25" fill="#777777" text-anchor="middle" letter-spacing="0.5">广州</text>
<rect x="241.2" y="3481.8" width="20" height="10" fill="#0cc3e3"/>
<text x="270.2" y="3495.3" font-size="25" fill="#777777" text-anchor="start" letter-spacing="0.55">获得迁入地投资企业数量</text>
<rect x="578" y="3481.8" width="21" height="10" fill="#1c78ee"/>
<text x="607" y="3495.3" font-size="25" fill="#777777" text-anchor="start" letter-spacing="0.55">总迁入数量</text>
<line x1="759.9" y1="3486.8" x2="780.4" y2="3486.8" stroke="#2273ee" stroke-width="2"/>
<text x="788.9" y="3495.3" font-size="25" fill="#777777" text-anchor="start" letter-spacing="0.55">占比</text>
<text x="79.4" y="2916" font-size="25" fill="#8a8a8a" text-anchor="start" letter-spacing="0.66">2019-2025跨市迁移科技型中小企业获得迁入市国资平台投资TOP10</text></g>
</svg>
</body></html>
